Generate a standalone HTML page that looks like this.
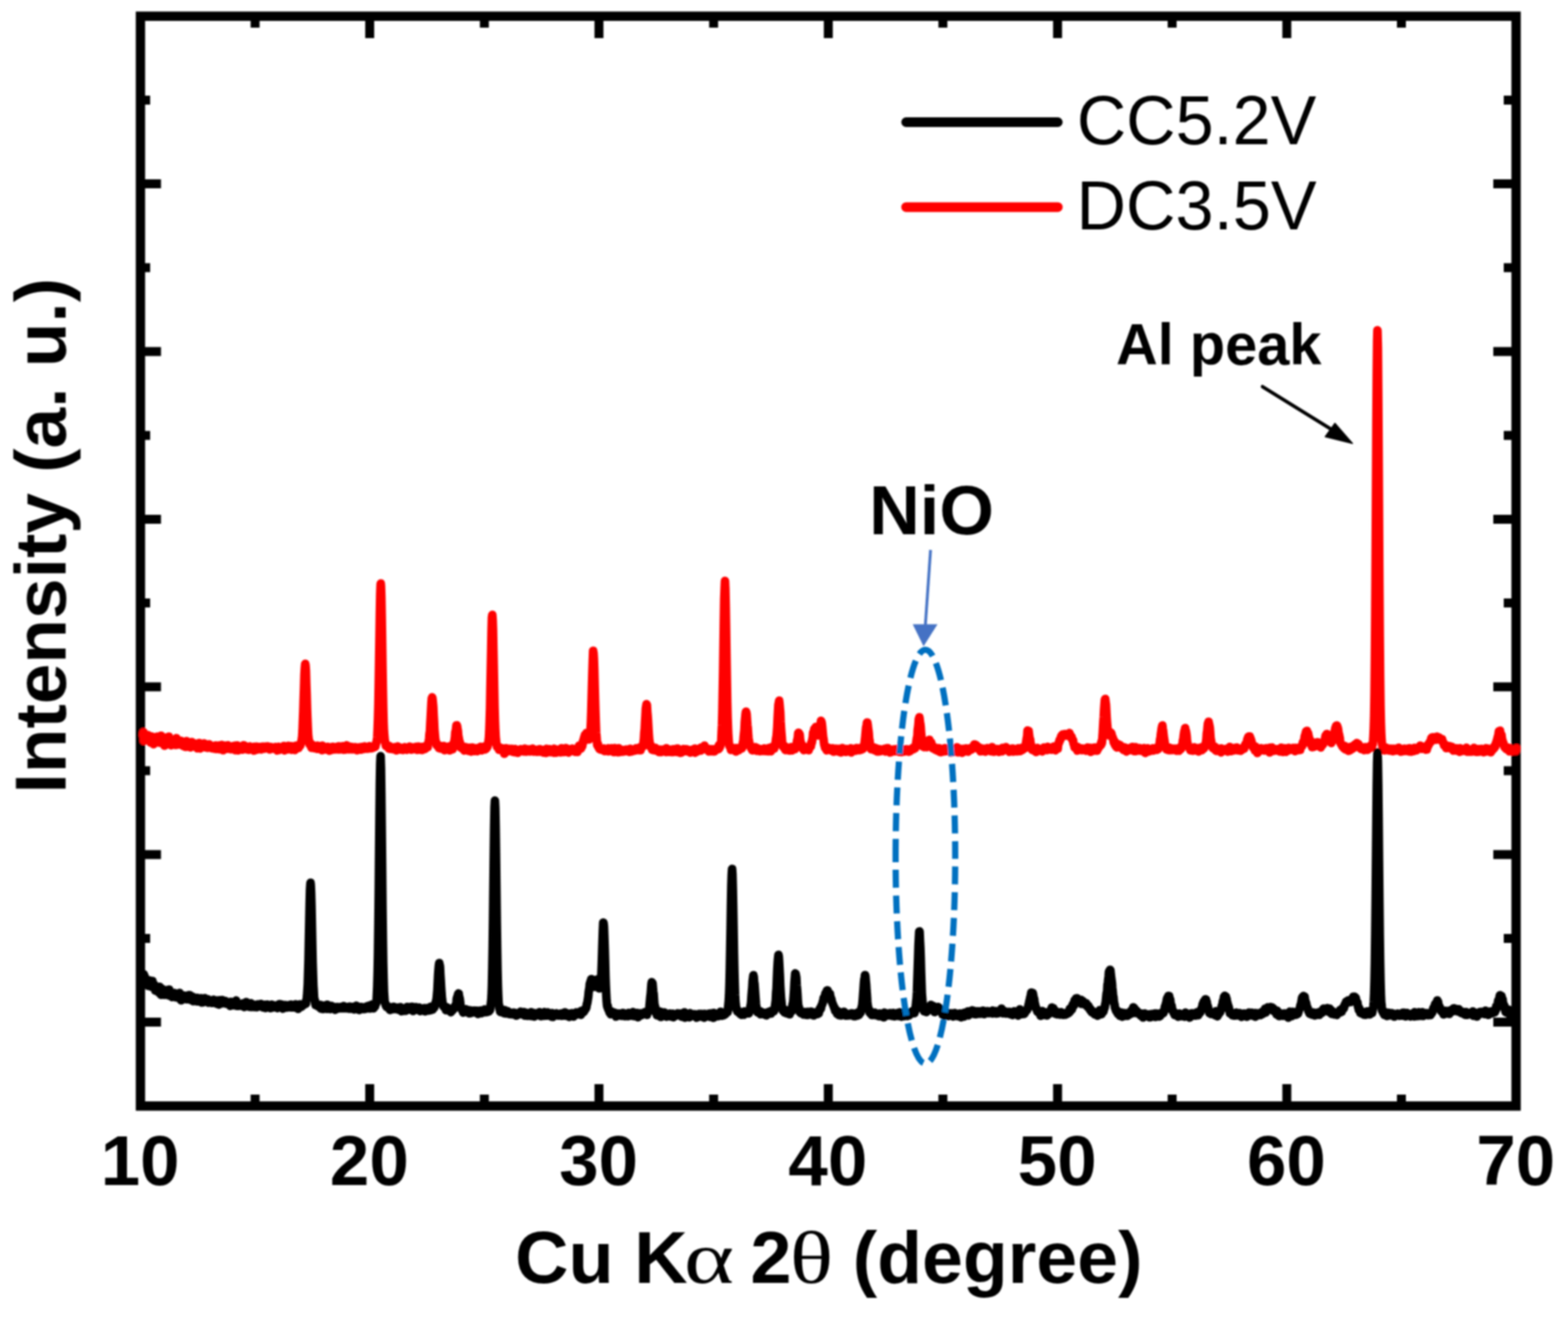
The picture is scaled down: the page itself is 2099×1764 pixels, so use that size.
<!DOCTYPE html>
<html><head><meta charset="utf-8"><title>XRD</title>
<style>html,body{margin:0;padding:0;background:#fff;} svg{display:block;}</style>
</head><body>
<svg width="2099" height="1764" viewBox="0 0 2099 1764">
<defs><filter id="bl" x="0" y="0" width="2099" height="1764" filterUnits="userSpaceOnUse"><feGaussianBlur stdDeviation="1"/></filter></defs>
<rect width="2099" height="1764" fill="#fff"/>
<g filter="url(#bl)">
<rect x="188.0" y="21.7" width="1841.5" height="1458.6" fill="none" stroke="#000" stroke-width="12.5"/>
<path d="M341.5 1480.3V1465.0M341.5 21.7V37.0M494.9 1480.3V1451.0M494.9 21.7V51.0M648.4 1480.3V1465.0M648.4 21.7V37.0M801.8 1480.3V1451.0M801.8 21.7V51.0M955.3 1480.3V1465.0M955.3 21.7V37.0M1108.8 1480.3V1451.0M1108.8 21.7V51.0M1262.2 1480.3V1465.0M1262.2 21.7V37.0M1415.7 1480.3V1451.0M1415.7 21.7V51.0M1569.1 1480.3V1465.0M1569.1 21.7V37.0M1722.6 1480.3V1451.0M1722.6 21.7V51.0M1876.0 1480.3V1465.0M1876.0 21.7V37.0M188.0 133.9H201.0M2029.5 133.9H2013.0M188.0 246.1H215.5M2029.5 246.1H1999.0M188.0 358.3H201.0M2029.5 358.3H2013.0M188.0 470.5H215.5M2029.5 470.5H1999.0M188.0 582.7H201.0M2029.5 582.7H2013.0M188.0 694.9H215.5M2029.5 694.9H1999.0M188.0 807.1H201.0M2029.5 807.1H2013.0M188.0 919.3H215.5M2029.5 919.3H1999.0M188.0 1031.5H201.0M2029.5 1031.5H2013.0M188.0 1143.7H215.5M2029.5 1143.7H1999.0M188.0 1255.9H201.0M2029.5 1255.9H2013.0M188.0 1368.1H215.5M2029.5 1368.1H1999.0" stroke="#000" stroke-width="12" fill="none"/>
<path d="M191.5 984.2L192 979.9 192.5 991.6 193 988.7 193.5 982.6 194 986.6 194.5 990.1 195 988.7 195.5 988.4 196 984.3 196.5 985.2 197 987.7 197.5 990.5 198 984.9 198.5 984 199 991.5 199.5 984.9 200 991.4 200.5 988.9 201 991 201.5 993.8 202 990.6 202.5 990.9 203 985.7 203.5 986.5 204 990.8 204.5 993.6 205 993.2 205.5 996.1 206 990.1 206.5 989.9 207 992.4 207.5 989.5 208 989.4 208.5 986.6 209 992.7 209.5 986.8 210 991.5 210.5 986 211 993.3 211.5 987.3 212 992.8 212.5 986 213 989.3 213.5 994 214 988.5 214.5 991.1 215 989.7 215.5 984.7 216 992 216.5 992.5 217 988.4 217.5 993 218 989.4 218.5 989 219 991.8 219.5 990.1 220 998 220.5 988 221 994.1 221.5 994.8 222 987.2 222.5 987.9 223 993.9 223.5 991.3 224 993.5 224.5 995.5 225 991.8 225.5 990.1 226 986 226.5 993.4 227 990.7 227.5 993.8 228 993.7 228.5 989.8 229 997.5 229.5 996 230 995.5 230.5 990.7 231 992.6 231.5 992.3 232 992.7 232.5 991.1 233 994.9 233.5 994.5 234 994.9 234.5 992.9 235 997.1 235.5 994.7 236 988 236.5 992.9 237 994.3 237.5 996.7 238 993.9 238.5 994.1 239 993.2 239.5 996.3 240 993.9 240.5 993.6 241 993.4 241.5 996.3 242 994 242.5 991.6 243 996.7 243.5 993.9 244 996.2 244.5 996.3 245 998.2 245.5 997.9 246 994.5 246.5 995.5 247 993.2 247.5 999.5 248 997 248.5 999 249 995.5 249.5 992 250 999.5 250.5 996.6 251 996.7 251.5 996.6 252 997.9 252.5 997.7 253 993.4 253.5 998.9 254 995.6 254.5 995.8 255 1000.2 255.5 998.7 256 996.2 256.5 993.2 257 997.3 257.5 998 258 996.9 258.5 994.6 259 995.5 259.5 994.7 260 997.6 260.5 998.8 261 999.2 261.5 995.9 262 997.8 262.5 998.4 263 996.4 263.5 997.2 264 1001.5 264.5 997.9 265 999.2 265.5 996.8 266 997.7 266.5 994.5 267 997.7 267.5 1000 268 1001.7 268.5 1000 269 999.1 269.5 998 270 996.8 270.5 997.7 271 999.1 271.5 996.6 272 999.8 272.5 996.3 273 994.9 273.5 996.4 274 995.2 274.5 995.8 275 1000.3 275.5 998 276 998.8 276.5 1000.5 277 1000.7 277.5 997.6 278 1000.9 278.5 999.3 279 998.6 279.5 999.4 280 996.2 280.5 997.4 281 998.6 281.5 999.9 282 998.2 282.5 998.7 283 1000.6 283.5 1001.4 284 1000.3 284.5 1001.2 285 998.4 285.5 998.6 286 999.7 286.5 998.7 287 998.4 287.5 1002.1 288 999 288.5 997.7 289 1000.2 289.5 1002.5 290 999.6 290.5 1001.5 291 998.8 291.5 998.7 292 998.4 292.5 999.4 293 1002.7 293.5 997.7 294 1002.4 294.5 998 295 999.3 295.5 1001.1 296 1000.8 296.5 1000.3 297 997.1 297.5 1000.4 298 998.2 298.5 1004.1 299 999.6 299.5 1000.3 300 998.1 300.5 999.2 301 998 301.5 1001.6 302 999.7 302.5 1001 303 999 303.5 999.4 304 1002.2 304.5 998.7 305 997.4 305.5 1000.9 306 998.5 306.5 999.6 307 1001.8 307.5 999.1 308 1001.8 308.5 999.3 309 1002.8 309.5 1002.5 310 999.7 310.5 1000.2 311 999.2 311.5 1000.9 312 1002.4 312.5 998.4 313 1002.1 313.5 998.6 314 999.4 314.5 998 315 1004 315.5 1000.9 316 1001.2 316.5 999.8 317 1002.5 317.5 997.7 318 1000.9 318.5 1004.3 319 1000.4 319.5 1001 320 1002 320.5 999.8 321 1001.1 321.5 1002.5 322 1001.4 322.5 1001.7 323 1000.6 323.5 1001.6 324 1001.2 324.5 1003.3 325 1002.2 325.5 1000.8 326 997.5 326.5 1002.2 327 1002.3 327.5 999.8 328 998.2 328.5 999.5 329 1002.5 329.5 999.6 330 1000.5 330.5 1001.5 331 1003 331.5 1001.2 332 1001 332.5 1000.4 333 1003.6 333.5 1002.8 334 1001 334.5 999.1 335 1000 335.5 1002 336 1000.1 336.5 1002.5 337 1001.7 337.5 1001.6 338 1002.2 338.5 1001.9 339 1000 339.5 1000.7 340 1004.6 340.5 999.5 341 1000.5 341.5 1002.8 342 1001 342.5 1000 343 999.3 343.5 1002 344 1002.7 344.5 1003.2 345 1001.3 345.5 1002.7 346 999.7 346.5 1001.5 347 1000.3 347.5 1001.5 348 1002.3 348.5 1002.8 349 999.8 349.5 1003 350 1000.6 350.5 999.8 351 1001 351.5 999.2 352 1001.3 352.5 1001.7 353 1001 353.5 1002 354 1000.8 354.5 1001.3 355 999.2 355.5 1001.3 356 1000.1 356.5 1000.6 357 1001.1 357.5 1001.5 358 998.9 358.5 999.1 359 1000.8 359.5 1001.9 360 1001.8 360.5 1002.5 361 1003.1 361.5 1002 362 1001.2 362.5 999.8 363 999.9 363.5 1000.6 364 1001.6 364.5 1001.6 365 1001.3 365.5 1001 366 1002.1 366.5 1001.5 367 1001.7 367.5 1001.7 368 1000.5 368.5 999.8 369 1001.9 369.5 1001.8 370 1000.9 370.5 1000.7 371 1004.4 371.5 1000.2 372 1000.9 372.5 1001.6 373 999.6 373.5 1001.4 374 1003.7 374.5 1002.5 375 1002.1 375.5 1002 376 1001.4 376.5 1002.5 377 1001 377.5 1000.6 378 1001.3 378.5 1002.4 379 1001.6 379.5 1002.1 380 998.4 380.5 1002.8 381 1004.3 381.5 1003 382 1000.7 382.5 999.9 383 1001.5 383.5 999.7 384 1002.1 384.5 1000.3 385 1002.4 385.5 1002.9 386 998.2 386.5 1001.4 387 1000 387.5 999 388 1000.1 388.5 1000.6 389 1002.3 389.5 998.8 390 1002.2 390.5 1003.5 391 1001.5 391.5 1001.4 392 1000.6 392.5 999 393 1001.3 393.5 1001 394 1001.4 394.5 1003.8 395 1001.2 395.5 1000.7 396 1002.2 396.5 998.1 397 998.3 397.5 999.2 398 998.6 398.5 1000.3 399 998.7 399.5 1001.2 400 1000.6 400.5 999.3 401 997.4 401.5 998.2 402 997.8 402.5 994.4 403 995 403.5 993.3 404 989.3 404.5 985.9 405 977.7 405.5 964.4 406 952.1 406.5 935 407 920.4 407.5 903.4 408 894.8 408.5 889.2 408.6 888.5 409 890.6 409.5 897.6 410 915.7 410.5 929.3 411 947.7 411.5 961 412 973.2 412.5 983.5 413 987.6 413.5 993.1 414 991.8 414.5 996.6 415 996.2 415.5 997 416 997.8 416.5 998.7 417 1000.8 417.5 996.4 418 999.2 418.5 998.4 419 1001.1 419.5 999.1 420 1000.5 420.5 999.5 421 1001 421.5 1001.6 422 999.8 422.5 1000.5 423 998.6 423.5 1001 424 1001.8 424.5 1000 425 1002.3 425.5 998.1 426 998.4 426.5 999.1 427 1000.3 427.5 1001 428 1000.9 428.5 1001 429 1002.1 429.5 1000.5 430 999.5 430.5 999.5 431 1004 431.5 998.1 432 1001 432.5 1003.2 433 1002 433.5 1000.2 434 1001.3 434.5 1002.5 435 1003 435.5 1000.2 436 1002.4 436.5 1001.8 437 1002.9 437.5 1003.3 438 1001 438.5 999.6 439 1002 439.5 1003.8 440 1002.4 440.5 1001.8 441 1004.7 441.5 1000.2 442 1002.7 442.5 1000.8 443 1001.6 443.5 1001.7 444 1003.6 444.5 1000.3 445 1000.9 445.5 999.5 446 1002.2 446.5 1001 447 1002.2 447.5 1000.2 448 1001.2 448.5 1003 449 1001.4 449.5 1002.5 450 1002.3 450.5 1001.2 451 999.6 451.5 1003 452 1001.9 452.5 1003 453 999 453.5 999.5 454 998.9 454.5 1000.5 455 1003.1 455.5 1002.4 456 1001.7 456.5 1001.9 457 1002.7 457.5 1001.3 458 1002.2 458.5 1001.9 459 998.8 459.5 1001.2 460 1003.5 460.5 1001.2 461 1001.5 461.5 1000.9 462 1001.1 462.5 1003.2 463 1001.4 463.5 1000.4 464 997.6 464.5 1001 465 999.2 465.5 999.3 466 1002.8 466.5 1002.7 467 999.2 467.5 1002.9 468 1002.3 468.5 1000.7 469 1002.7 469.5 999.6 470 1000.2 470.5 999.9 471 1000.3 471.5 1002.9 472 1000 472.5 1000.2 473 1000.5 473.5 1002 474 1001.3 474.5 1002.9 475 1000.8 475.5 1000 476 1001.1 476.5 1001.8 477 1000.5 477.5 1002.1 478 1004.1 478.5 1000.9 479 1001.7 479.5 1003.5 480 1000.8 480.5 1000.6 481 1000.2 481.5 1002.2 482 1002.3 482.5 1001.4 483 1001.7 483.5 1003.3 484 1002.7 484.5 999.7 485 1001.5 485.5 1001.7 486 1002.5 486.5 1001.2 487 1000.6 487.5 1000.9 488 999.1 488.5 1001.4 489 1000.6 489.5 1002 490 1000 490.5 1000.7 491 1000 491.5 999.8 492 1002.1 492.5 1000.6 493 1001.7 493.5 999.6 494 1001.1 494.5 998.7 495 1000.3 495.5 1000.1 496 1001.5 496.5 1000.9 497 1000.3 497.5 1001.5 498 1000.5 498.5 1000.8 499 1001 499.5 999.7 500 999.2 500.5 999.8 501 998.5 501.5 999.3 502 999.8 502.5 999 503 996.6 503.5 994.3 504 994 504.5 990.6 505 986.6 505.5 975.5 506 961.8 506.5 943.1 507 915.3 507.5 884.4 508 853.2 508.5 821.3 509 795.7 509.5 782.5 509.7 781 510 784.3 510.5 799 511 825.5 511.5 857 512 891.2 512.5 921.5 513 947.1 513.5 967.2 514 978.7 514.5 984.4 515 990.3 515.5 992.5 516 995.3 516.5 998.1 517 998.6 517.5 997.7 518 999.2 518.5 998.2 519 997.6 519.5 997.9 520 998.8 520.5 1001.9 521 998.5 521.5 1002 522 1002.2 522.5 1000.4 523 1000.7 523.5 1000 524 1000.9 524.5 1001.8 525 1001.1 525.5 1002.4 526 1002.7 526.5 1001.7 527 1001.7 527.5 1001.2 528 1001.8 528.5 999.9 529 1002 529.5 1001.7 530 1000.4 530.5 1004.3 531 1000.3 531.5 1000.4 532 1002 532.5 999.1 533 1000.6 533.5 999.7 534 1000.4 534.5 1001.5 535 1002.1 535.5 1003.2 536 1002.8 536.5 1003.3 537 1002.5 537.5 1001.2 538 1003.2 538.5 1001.1 539 1001 539.5 1003.8 540 1002.8 540.5 1002.1 541 1002.8 541.5 1003 542 1000.1 542.5 1001.7 543 1000.3 543.5 1002 544 1001 544.5 1003.6 545 1002.5 545.5 1000.8 546 1001.8 546.5 1000.3 547 1001.9 547.5 1002.6 548 1002.2 548.5 999.3 549 1001.4 549.5 1002.5 550 1002.2 550.5 1003.3 551 1000.1 551.5 1002.5 552 1001 552.5 1002 553 1002.3 553.5 1002.7 554 1001 554.5 1002 555 1000.2 555.5 999.9 556 1002.4 556.5 1001.6 557 999.6 557.5 1000.5 558 1001.6 558.5 1003.6 559 1002.9 559.5 1002.6 560 999.2 560.5 1001.4 561 1002.1 561.5 1001.9 562 1001.9 562.5 1001 563 1003.6 563.5 1003.2 564 1001 564.5 999.8 565 1003.7 565.5 1000.2 566 1002.4 566.5 1003.2 567 999.4 567.5 1000.9 568 999.9 568.5 1000.8 569 1000.4 569.5 1002.2 570 1000.2 570.5 999.1 571 1000.2 571.5 998 572 997.3 572.5 999.9 573 994.9 573.5 993.8 574 992.3 574.5 987.6 575 981.6 575.5 979.4 576 969.1 576.5 960.2 577 950.8 577.5 941.3 578 934.8 578.5 933.5 578.6 933.3 579 935.5 579.5 940.6 580 945.7 580.5 957 581 965 581.5 976.1 582 981.8 582.5 987.4 583 991.1 583.5 993 584 993.6 584.5 997.5 585 995.8 585.5 996.7 586 998.4 586.5 998.2 587 999.9 587.5 1001.1 588 1000.4 588.5 1000.5 589 1000.5 589.5 1001.8 590 998.4 590.5 1001.4 591 999.8 591.5 999.5 592 1001.2 592.5 1000.8 593 1002.2 593.5 1002.9 594 998.5 594.5 1001.5 595 1004.1 595.5 1002.8 596 1003.5 596.5 1001.8 597 999.8 597.5 1000.2 598 1002.6 598.5 1002.9 599 1000.7 599.5 1001.3 600 1002 600.5 999.3 601 1001.1 601.5 1003.6 602 1004.3 602.5 1001.2 603 1003.6 603.5 1000.4 604 999.9 604.5 997.8 605 1001.7 605.5 999.6 606 1002.7 606.5 999.3 607 998 607.5 993.8 608 995.8 608.5 990.3 609 986.8 609.5 979.8 610 979.4 610.5 975.6 611 970.9 611.5 970.8 612 972.2 612.5 975.7 613 978.4 613.5 985 614 986.8 614.5 990.2 615 993.5 615.5 993.1 616 997 616.5 1000.5 617 1000.3 617.5 999.4 618 1001.3 618.5 998.5 619 1001 619.5 1002.2 620 1002.6 620.5 1000.9 621 1003.2 621.5 1004.5 622 1001.6 622.5 1003.2 623 1000.3 623.5 999.9 624 1003.3 624.5 1002.6 625 1002.8 625.5 1001.9 626 1002.3 626.5 1003.8 627 1005 627.5 1002.5 628 1000.7 628.5 1004.5 629 1003.6 629.5 1003.8 630 1003.1 630.5 1005.9 631 1003 631.5 1003.6 632 1000.5 632.5 1002.2 633 1002.1 633.5 1002.9 634 1003.4 634.5 1002 635 1005.2 635.5 1001.6 636 1002.4 636.5 1003.3 637 1001.4 637.5 1003.7 638 1003.8 638.5 1002.6 639 1005.4 639.5 1003 640 1003.3 640.5 1001.6 641 1000.7 641.5 1002 642 1002.4 642.5 1002.2 643 1003.7 643.5 999.6 644 1001.1 644.5 1000.2 645 1004.2 645.5 1001.7 646 1001.7 646.5 1000.8 647 1003.3 647.5 1001.5 648 1002.2 648.5 999.1 649 1003.1 649.5 1001.8 650 1001.8 650.5 1002.4 651 1000.2 651.5 999.9 652 1000.5 652.5 999.3 653 997.2 653.5 995.5 654 991.4 654.5 987.3 655 978.6 655.5 964.1 656 948.3 656.5 920.7 657 895.9 657.5 871.3 658 844.7 658.5 826.7 659 823 659.5 829.5 660 843.7 660.5 870.1 661 894.9 661.5 921.1 662 945.8 662.5 963.7 663 976.1 663.5 986.1 664 990.9 664.5 995.8 665 997.7 665.5 1000 666 999.2 666.5 998.7 667 999.1 667.5 1000.9 668 1003.5 668.5 1002.8 669 1001.1 669.5 1003.4 670 1000.8 670.5 1003.8 671 1002.1 671.5 1003.8 672 1003.7 672.5 1002.6 673 1003.5 673.5 1001.8 674 1003.2 674.5 1004.8 675 1008.8 675.5 1004.4 676 1003.7 676.5 1002.3 677 1005 677.5 1001.5 678 1002.7 678.5 1004.2 679 1002.3 679.5 1005.9 680 1005.3 680.5 1003.2 681 1003.2 681.5 1002.3 682 1002.2 682.5 1004.6 683 1004.9 683.5 1004.6 684 1004.5 684.5 1003.4 685 1004.7 685.5 1002.3 686 1004.2 686.5 1006.2 687 1006 687.5 1003.7 688 1003.9 688.5 1006.1 689 1006.7 689.5 1002.4 690 1003.8 690.5 1004.7 691 1006 691.5 1003.3 692 1005.3 692.5 1004.1 693 1007.6 693.5 1005.1 694 1004.3 694.5 1004.1 695 1005.9 695.5 1005.4 696 1003.2 696.5 1004.9 697 1002.8 697.5 1003.6 698 1002.9 698.5 1002.9 699 1003.8 699.5 1003.4 700 1005.4 700.5 1005.7 701 1004.4 701.5 1003.2 702 1005.7 702.5 1002 703 1002.2 703.5 1005.6 704 1005.6 704.5 1006 705 1004.4 705.5 1003.1 706 1004 706.5 1005.4 707 1003.7 707.5 1003.8 708 1002.9 708.5 1003.2 709 1005.8 709.5 1005.3 710 1003.2 710.5 1003.3 711 1004 711.5 1005.4 712 1003.2 712.5 1004.5 713 1001.9 713.5 1003.1 714 1005.3 714.5 1005.9 715 1003.2 715.5 1003.7 716 1005.8 716.5 1004.2 717 1004 717.5 1005.4 718 1005 718.5 1006.2 719 1005.8 719.5 1004 720 1004.6 720.5 1004.7 721 1003 721.5 1003.5 722 1006 722.5 1002.7 723 1006 723.5 1005.1 724 1004.5 724.5 1005.4 725 1005.4 725.5 1006.3 726 1004.2 726.5 1004.4 727 1004.4 727.5 1007.2 728 1006 728.5 1003.5 729 1004.3 729.5 1003.8 730 1004.7 730.5 1005 731 1007.7 731.5 1002.3 732 1006.1 732.5 1005.3 733 1003.8 733.5 1004.5 734 1004.1 734.5 1004.8 735 1006 735.5 1002.7 736 1006.4 736.5 1004.2 737 1006.7 737.5 1005.2 738 1006.3 738.5 1005.4 739 1006.1 739.5 1004.8 740 1003.6 740.5 1005.6 741 1005.6 741.5 1007.4 742 1002.1 742.5 1004.4 743 1006.1 743.5 1003 744 1004.4 744.5 1007.4 745 1006.5 745.5 1003.5 746 1006.5 746.5 1006.2 747 1005.7 747.5 1005.1 748 1004.9 748.5 1003.5 749 1003.9 749.5 1005.6 750 1004.8 750.5 1007 751 1004.2 751.5 1001.5 752 1004.1 752.5 1004.9 753 1005.1 753.5 1004.6 754 1003.5 754.5 1006.5 755 1003.7 755.5 1005.5 756 1004.1 756.5 1002.9 757 1006.3 757.5 1001.2 758 1003.4 758.5 1005 759 1004 759.5 1005.4 760 1004.3 760.5 1003.8 761 1007.2 761.5 1004.1 762 1004.1 762.5 1002.9 763 1003.3 763.5 1005.1 764 1005 764.5 1004.2 765 1003.3 765.5 1005.1 766 1001.9 766.5 1003.7 767 1003.7 767.5 1002.9 768 1004.2 768.5 1003.1 769 1002.9 769.5 1006.2 770 1004.8 770.5 1005.3 771 1003.7 771.5 1004.9 772 1004.5 772.5 1005 773 1006.4 773.5 1002.9 774 1003.4 774.5 1002.8 775 998.1 775.5 1000.6 776 1002.1 776.5 1002.5 777 1000.4 777.5 1002 778 1001.4 778.5 998.2 779 999.4 779.5 998.5 780 995.2 780.5 991.7 781 993 781.5 989.1 782 987 782.5 985.9 783 983.6 783.5 984.5 784 983.3 784.4 982 784.5 982.7 785 981 785.5 982.4 786 984.6 786.5 984 787 989.5 787.5 986.5 788 987 788.5 989.7 789 988.8 789.5 986 790 982 790.5 976.3 791 966.8 791.5 953 792 934.8 792.5 917 793 899.4 793.5 884.6 794 871 794.3 873.6 794.5 873.3 795 881.4 795.5 896 796 915.1 796.5 934 797 951 797.5 966.3 798 980.2 798.5 985.3 799 992 799.5 997.2 800 997.8 800.5 996.1 801 1000.1 801.5 999.8 802 1000.7 802.5 1002.6 803 1002.2 803.5 1001.5 804 1003.2 804.5 1002.9 805 1002.6 805.5 1003.1 806 1003.2 806.5 1002.5 807 1002.5 807.5 1003.3 808 1002.1 808.5 1001.8 809 1005.2 809.5 1003.3 810 1003.6 810.5 1003.5 811 1003.8 811.5 1003.9 812 1004 812.5 1002.9 813 1005.2 813.5 1003.1 814 1005.4 814.5 1001.6 815 1002.7 815.5 1005.4 816 1004 816.5 1003.3 817 1004.7 817.5 1002.9 818 1004.4 818.5 1001.4 819 1003.7 819.5 1003.5 820 1005 820.5 1005.5 821 1003.2 821.5 1006.5 822 1003.6 822.5 1001.7 823 1001.3 823.5 1006.4 824 1004.3 824.5 1003.6 825 1003.5 825.5 1003 826 1006.2 826.5 1004.4 827 1006.8 827.5 1004.2 828 1001.4 828.5 1005.6 829 1004 829.5 1004.2 830 1006.5 830.5 1004.1 831 1006 831.5 1004.5 832 1003.5 832.5 1005.1 833 1003.7 833.5 1006.1 834 1005.7 834.5 1004.6 835 1005.3 835.5 1005.2 836 1004.1 836.5 1005.6 837 1004.2 837.5 1005.3 838 1003.2 838.5 1004.6 839 1005 839.5 1003.4 840 1003.9 840.5 1003.7 841 1005.3 841.5 1003.5 842 1004.9 842.5 1006.3 843 1004.8 843.5 1002.2 844 1004.5 844.5 1005.6 845 1003.9 845.5 1005.7 846 1005 846.5 1004.7 847 1003.8 847.5 1003.5 848 1003.8 848.5 1004.1 849 1004.7 849.5 1004.5 850 1003.5 850.5 1003.9 851 1004.3 851.5 1001.6 852 1002.7 852.5 1002.5 853 1003.2 853.5 1003 854 1002.9 854.5 1002 855 1003.9 855.5 1003.2 856 1000.5 856.5 1002.4 857 1000.7 857.5 1004.1 858 1000.9 858.5 1000.6 859 1000.6 859.5 999.6 860 998.7 860.5 999.4 861 995.5 861.5 993.1 862 989 862.5 980.3 863 976.3 863.5 966.6 864 958.4 864.5 948.5 865 945.4 865.5 942.5 866 943.7 866.5 952.5 867 957.8 867.5 965.4 868 974.4 868.5 982.7 869 989 869.5 992.8 870 996.8 870.5 999.3 871 997.2 871.5 999.2 872 999.3 872.5 1001.2 873 1003.4 873.5 1002.7 874 1000.8 874.5 1002 875 1004 875.5 1002.1 876 1002.9 876.5 1003.6 877 1000.9 877.5 1004.4 878 1004 878.5 1004.4 879 1002.4 879.5 1002.8 880 1003.1 880.5 1004.2 881 1004.1 881.5 1004.2 882 1006.4 882.5 1005.8 883 1003.2 883.5 1003.3 884 1006.5 884.5 1003.9 885 1006.1 885.5 1006.4 886 1003.6 886.5 1004 887 1004.5 887.5 1003.3 888 1003.2 888.5 1003.9 889 1005.6 889.5 1003.9 890 1004.2 890.5 1003.9 891 1002.8 891.5 1006.5 892 1001.5 892.5 1003.7 893 1005.3 893.5 1002.8 894 1005.4 894.5 1006.2 895 1003.5 895.5 1004.9 896 1003.2 896.5 1005.3 897 1004.8 897.5 1004.9 898 1006.4 898.5 1005.3 899 1006.4 899.5 1005.5 900 1003.1 900.5 1005 901 1005.3 901.5 1002.8 902 1006.4 902.5 1004.8 903 1005.2 903.5 1003.5 904 1004.8 904.5 1005.1 905 1004.3 905.5 1004.8 906 1001.9 906.5 1006.5 907 1003.3 907.5 1001.9 908 1003.5 908.5 1003.6 909 1005.4 909.5 1003.5 910 1005.1 910.5 1003.5 911 1007.6 911.5 1005.4 912 1007.3 912.5 1003.4 913 1005.6 913.5 1003.5 914 1005.5 914.5 1005.6 915 1002.6 915.5 1003.2 916 1003.2 916.5 1002.7 917 1003.7 917.5 1003.4 918 1002.8 918.5 1004.8 919 1005.4 919.5 1003 920 1004 920.5 1004.7 921 1004.4 921.5 1003.8 922 1005.7 922.5 1005.8 923 1005.5 923.5 1004.4 924 1007.2 924.5 1006.9 925 1004.1 925.5 1004.5 926 1006.1 926.5 1003.6 927 1005.1 927.5 1004.6 928 1003.6 928.5 1004.2 929 1002.5 929.5 1003.8 930 1001.9 930.5 1007.4 931 1006.4 931.5 1006 932 1004.8 932.5 1005.7 933 1006 933.5 1005.6 934 1005.4 934.5 1002.9 935 1004.5 935.5 1003.1 936 1002.1 936.5 1001.9 937 1003.7 937.5 1004.3 938 1000.8 938.5 1004.5 939 1003.8 939.5 1001 940 1000.6 940.5 1000.8 941 1002 941.5 1000.1 942 1000.5 942.5 1001 943 998 943.5 1001 944 1002.6 944.5 1001.8 945 1002.7 945.5 1002.7 946 1003.3 946.5 1002.9 947 1001.8 947.5 1002.9 948 1003.2 948.5 1005.1 949 1005.7 949.5 1004.2 950 1002.8 950.5 1002.8 951 1003.6 951.5 1005.6 952 1004.2 952.5 1003.7 953 1002.8 953.5 1004.9 954 1004.1 954.5 1003.6 955 1003.7 955.5 1005.7 956 1003.3 956.5 1005.6 957 1004.9 957.5 1003.3 958 1004.3 958.5 1002.8 959 1001.8 959.5 1002.4 960 1001.3 960.5 1003 961 1002.1 961.5 1002.6 962 1002.6 962.5 997.1 963 1001.1 963.5 997.7 964 999.3 964.5 996.4 965 995 965.5 992 966 980.3 966.5 970.7 967 952.6 967.5 926 968 899.3 968.5 864.7 969 830.3 969.5 801.5 970 788.4 970.4 779.5 970.5 777.5 971 788.8 971.5 812.4 972 843.5 972.5 878.2 973 909.6 973.5 939.6 974 959.8 974.5 974 975 984.9 975.5 991.7 976 997 976.5 998.7 977 998.9 977.5 1000.2 978 1000.9 978.5 1003.7 979 1000.6 979.5 1002.2 980 1002.8 980.5 1000.8 981 1002.4 981.5 1002.5 982 1001.8 982.5 1003.2 983 1003.9 983.5 1004.1 984 1002.4 984.5 1003 985 1005.8 985.5 1001.3 986 1003 986.5 1003.8 987 1002.8 987.5 1003.4 988 1002.7 988.5 1003.4 989 1004 989.5 1001.9 990 1002.2 990.5 1001.7 991 1001 991.5 1001.2 992 999.4 992.5 1001.3 993 1001.8 993.5 1000.8 994 998.7 994.5 993.6 995 993.5 995.5 986.2 996 981.3 996.5 977 997 966 997.5 961.8 998 955.8 998.5 952.6 998.7 952.5 999 953.6 999.5 955.8 1000 963.4 1000.5 970.5 1001 974.3 1001.5 982 1002 987.8 1002.5 990.9 1003 994 1003.5 997.7 1004 998.7 1004.5 997.8 1005 1000 1005.5 1001.8 1006 1000 1006.5 1000.7 1007 1004.2 1007.5 1004.1 1008 1000.4 1008.5 1001 1009 1003.4 1009.5 1001.5 1010 1002.8 1010.5 1002.6 1011 1004 1011.5 1000.1 1012 1000.6 1012.5 1001.9 1013 1004.9 1013.5 1003.4 1014 1001.4 1014.5 1004.3 1015 1004.6 1015.5 1003.4 1016 1003.3 1016.5 1004.4 1017 1005.4 1017.5 1004 1018 1004.5 1018.5 1003.8 1019 1003.4 1019.5 1002.7 1020 1004.2 1020.5 1003.5 1021 1003.5 1021.5 1005.1 1022 1004.5 1022.5 1005 1023 1001.8 1023.5 1004.5 1024 1003 1024.5 1002.7 1025 1002.6 1025.5 1005.3 1026 1004.7 1026.5 1002.7 1027 1002.1 1027.5 1003.5 1028 1002.9 1028.5 1005.5 1029 1001.4 1029.5 1000.9 1030 1002.8 1030.5 1003.1 1031 1003.1 1031.5 1003.8 1032 1005.4 1032.5 1002.1 1033 1001.6 1033.5 999.8 1034 1002.2 1034.5 1002.7 1035 1000.9 1035.5 1002.4 1036 1000.4 1036.5 1001.8 1037 999.4 1037.5 996.5 1038 995.3 1038.5 991.7 1039 987.8 1039.5 985.4 1040 979.5 1040.5 972.8 1041 961.1 1041.5 951.9 1042 943.2 1042.5 941.1 1042.9 938.5 1043 937.8 1043.5 942.2 1044 948.1 1044.5 953.3 1045 965.8 1045.5 973.8 1046 980.6 1046.5 986.6 1047 993.9 1047.5 996.7 1048 999.2 1048.5 996.8 1049 998.4 1049.5 1001.1 1050 998.9 1050.5 999.9 1051 998.9 1051.5 1003.9 1052 1003.1 1052.5 1002.6 1053 1002.4 1053.5 1001.8 1054 1001.9 1054.5 1003.3 1055 1001.7 1055.5 1004.3 1056 1002.1 1056.5 1001.7 1057 1004.6 1057.5 1002.7 1058 1003.6 1058.5 1002.4 1059 1000 1059.5 1003.6 1060 1001.1 1060.5 1004.2 1061 1000.7 1061.5 1000.2 1062 1003 1062.5 1003 1063 1002.4 1063.5 1000.4 1064 1002.7 1064.5 999.1 1065 999.5 1065.5 997.8 1066 996.5 1066.5 995.8 1067 991.1 1067.5 989.7 1068 986.9 1068.5 981.4 1069 980.7 1069.3 982 1069.5 981.3 1070 983.6 1070.5 982.9 1071 989.2 1071.5 992.2 1072 993.9 1072.5 994.7 1073 998.3 1073.5 999 1074 1001.4 1074.5 1001.1 1075 1002.6 1075.5 1001.3 1076 1003.9 1076.5 999.2 1077 1000.9 1077.5 1003 1078 1000.4 1078.5 1003.3 1079 1000.8 1079.5 1002.4 1080 1001 1080.5 1001.6 1081 1002.2 1081.5 1001.7 1082 1001.1 1082.5 1004.1 1083 1000.9 1083.5 999.2 1084 1001 1084.5 1000 1085 999.5 1085.5 999 1086 993.9 1086.5 994.7 1087 992.8 1087.5 989.1 1088 987.1 1088.5 980.4 1089 981.2 1089.5 982 1090 975.5 1090.5 975.6 1091 975.7 1091.4 975 1091.5 977.1 1092 972.9 1092.5 976 1093 978.3 1093.5 977 1094 980.2 1094.5 984 1095 984.2 1095.5 983.3 1096 978.4 1096.5 979.7 1097 977.4 1097.5 972.8 1098 969.5 1098.5 970.6 1099 964.7 1099.3 965 1099.5 965.7 1100 967.4 1100.5 971.4 1101 976.7 1101.5 983 1102 987.2 1102.5 989.5 1103 994.1 1103.5 997.3 1104 997.8 1104.5 1001 1105 1001.3 1105.5 999.6 1106 1001.7 1106.5 1004.2 1107 1004 1107.5 1002.1 1108 1003.5 1108.5 1001.7 1109 1000.8 1109.5 1003.6 1110 1003.3 1110.5 1003.8 1111 1003.2 1111.5 1003.7 1112 1002.7 1112.5 1004 1113 1004.6 1113.5 1003.5 1114 1004.7 1114.5 1001.4 1115 1002.7 1115.5 1005.6 1116 1006.1 1116.5 1004.2 1117 1003.7 1117.5 1002.3 1118 1004.4 1118.5 1005 1119 1002.1 1119.5 1004.7 1120 1004.7 1120.5 1004.6 1121 1002.6 1121.5 1004.8 1122 1002.2 1122.5 1006 1123 1004.3 1123.5 1002.6 1124 1005.9 1124.5 1005.7 1125 1003.3 1125.5 1007 1126 1002.9 1126.5 1004.6 1127 1005.7 1127.5 1001.3 1128 1005.5 1128.5 1004.1 1129 1004.2 1129.5 1002.8 1130 1004.7 1130.5 1002.8 1131 1003 1131.5 1003.7 1132 1002.7 1132.5 1006.3 1133 1002.5 1133.5 1003.3 1134 1003.8 1134.5 1004.2 1135 1005.3 1135.5 1005.3 1136 1003.8 1136.5 1003.7 1137 1004.3 1137.5 1005.3 1138 1005.1 1138.5 1003.5 1139 1001.5 1139.5 1007 1140 1005.4 1140.5 1004.5 1141 1004.6 1141.5 1003.5 1142 1002.8 1142.5 1003.7 1143 1003.8 1143.5 1003.2 1144 1002.1 1144.5 1003.6 1145 1004.7 1145.5 1003.3 1146 1003.9 1146.5 1001.2 1147 1003.6 1147.5 1003.6 1148 1002.1 1148.5 1001.4 1149 1004.1 1149.5 1002.5 1150 1004.1 1150.5 1002.8 1151 1004 1151.5 1002.7 1152 1001 1152.5 1002.7 1153 1002.2 1153.5 1003.2 1154 1001.5 1154.5 1001.2 1155 1002.3 1155.5 1001.9 1156 1000.3 1156.5 999 1157 995.9 1157.5 993 1158 989 1158.5 983.5 1159 977.9 1159.5 973.1 1160 972.3 1160.5 967.2 1160.7 967 1161 966.9 1161.5 969.7 1162 974.2 1162.5 977.4 1163 981.5 1163.5 989.2 1164 990.7 1164.5 996.1 1165 998.2 1165.5 1001 1166 1002.8 1166.5 1001.8 1167 1001.1 1167.5 1000.6 1168 1001.4 1168.5 1002.7 1169 1000.1 1169.5 1003.1 1170 1003.1 1170.5 1004.1 1171 1002.9 1171.5 1003.6 1172 1002.6 1172.5 1003 1173 1001.4 1173.5 1003.9 1174 1005.8 1174.5 1004.1 1175 1004.4 1175.5 1002.6 1176 1005.8 1176.5 1003 1177 1005.1 1177.5 1004.2 1178 1002.8 1178.5 1005.4 1179 1004.1 1179.5 1004.4 1180 1004.7 1180.5 1004.1 1181 1003.7 1181.5 1004.8 1182 1003.7 1182.5 1004.3 1183 1003.4 1183.5 1002.3 1184 1003.4 1184.5 1003.6 1185 1004.3 1185.5 1005.8 1186 1002.1 1186.5 1004.4 1187 1001.4 1187.5 1002.9 1188 1003.6 1188.5 1001.4 1189 1001.9 1189.5 1004.5 1190 1004.4 1190.5 1004.2 1191 1003.3 1191.5 1007.1 1192 1004.1 1192.5 1003.2 1193 1006.5 1193.5 1005.1 1194 1003.8 1194.5 1005.9 1195 1004.5 1195.5 1005.1 1196 1004.6 1196.5 1003 1197 1005.6 1197.5 1004.5 1198 1003 1198.5 1003.3 1199 1005.5 1199.5 1003.8 1200 1004.3 1200.5 1005.1 1201 1004.4 1201.5 1002.3 1202 1005.1 1202.5 1005.5 1203 1005.4 1203.5 1006.3 1204 1004.7 1204.5 1005.2 1205 1006.3 1205.5 1003.8 1206 1006.4 1206.5 1006.4 1207 1005.2 1207.5 1006.5 1208 1005.2 1208.5 1003 1209 1005.6 1209.5 1004.5 1210 1004.6 1210.5 1004.3 1211 1005.8 1211.5 1004.7 1212 1003.1 1212.5 1004.6 1213 1004.9 1213.5 1003 1214 1003.3 1214.5 1003.3 1215 1003 1215.5 1004.2 1216 1005 1216.5 1006.1 1217 1005.2 1217.5 1004.9 1218 1005 1218.5 1005.1 1219 1002.8 1219.5 1004.1 1220 1003.5 1220.5 1002.8 1221 1002.3 1221.5 1002 1222 1002.2 1222.5 1000.7 1223 1002.7 1223.5 1001.8 1224 1001.6 1224.5 1001.4 1225 1001.3 1225.5 998.7 1226 998 1226.5 994.1 1227 990.5 1227.5 987 1228 986.7 1228.5 976.6 1229 973.4 1229.5 969 1230 962 1230.5 962.3 1230.7 960 1231 961.7 1231.5 966.3 1232 968.8 1232.5 972.9 1233 980.6 1233.5 984.8 1234 988.3 1234.5 991.9 1235 999 1235.5 997 1236 998.7 1236.5 998.5 1237 999.9 1237.5 999.5 1238 999.2 1238.5 997.9 1239 997.3 1239.5 997.6 1240 998.4 1240.5 1000 1241 997.9 1241.5 998.1 1242 995.6 1242.5 994.1 1243 991.9 1243.5 993.2 1244 990.2 1244.3 993 1244.5 995.2 1245 993.8 1245.5 995.3 1246 994 1246.5 993.5 1247 995.6 1247.5 996.6 1248 999.7 1248.5 1001.6 1249 998.8 1249.5 1000.1 1250 1001 1250.5 1001.3 1251 1000.5 1251.5 1002.6 1252 1003.3 1252.5 1003.5 1253 1001.6 1253.5 1003.2 1254 1001.2 1254.5 1004.7 1255 1002.3 1255.5 1003.3 1256 1003.2 1256.5 1003 1257 1002.5 1257.5 1001.6 1258 1006.2 1258.5 1004.3 1259 1004.3 1259.5 1006.7 1260 1003.9 1260.5 1004.8 1261 1004.1 1261.5 1005.6 1262 1004.7 1262.5 1004.5 1263 1003.8 1263.5 1004.5 1264 1005.7 1264.5 1001.5 1265 1004 1265.5 1003.6 1266 1003.8 1266.5 1001.6 1267 1005.2 1267.5 1003.1 1268 1003.9 1268.5 1003.6 1269 1002.1 1269.5 1003.7 1270 1001.9 1270.5 1003 1271 1003.8 1271.5 1004.3 1272 1004.3 1272.5 1004.1 1273 1007.1 1273.5 1004.8 1274 1002.7 1274.5 1003.5 1275 1003.4 1275.5 1004.1 1276 1003.5 1276.5 1003.2 1277 1006.4 1277.5 1004.3 1278 1003.9 1278.5 1004 1279 1004 1279.5 1006.1 1280 1004.9 1280.5 1005.8 1281 1000.2 1281.5 1004.7 1282 1005.7 1282.5 1006.9 1283 1004.3 1283.5 1002.1 1284 1005 1284.5 1003.5 1285 1001.9 1285.5 1003.5 1286 1005.6 1286.5 1005.8 1287 1005.2 1287.5 1002.9 1288 1007.5 1288.5 1002.7 1289 1004.1 1289.5 1002.3 1290 1005.9 1290.5 1004.8 1291 1005.3 1291.5 1004.3 1292 1004.1 1292.5 1004.4 1293 1001.7 1293.5 1005.4 1294 1005.3 1294.5 1003.6 1295 1004 1295.5 1004.4 1296 1006 1296.5 1004.5 1297 1003.9 1297.5 1003.1 1298 1001.6 1298.5 1002.6 1299 1003.3 1299.5 1002.6 1300 1002.8 1300.5 1003.3 1301 1002.4 1301.5 1001.8 1302 1001.7 1302.5 1000.6 1303 999.8 1303.5 999.9 1304 996.6 1304.5 1000.1 1305 996.5 1305.5 999.2 1305.7 998 1306 999.5 1306.5 998.3 1307 997.3 1307.5 1000.3 1308 999.6 1308.5 1000.1 1309 1000.6 1309.5 1002.3 1310 1002.6 1310.5 1002.3 1311 1000.4 1311.5 1002.2 1312 1003.2 1312.5 1005.6 1313 1004 1313.5 1003.5 1314 1005.3 1314.5 1003.7 1315 1003.9 1315.5 1004.2 1316 1002.1 1316.5 1005.3 1317 1004.6 1317.5 1003.7 1318 1002.6 1318.5 1004.4 1319 1006 1319.5 1003.3 1320 1002.8 1320.5 1004.7 1321 1002.1 1321.5 1001.3 1322 1003.6 1322.5 1003.3 1323 1003.9 1323.5 1003.5 1324 1004.7 1324.5 1003.9 1325 1003.5 1325.5 1003.6 1326 1005.1 1326.5 1005.5 1327 1005.4 1327.5 1005.2 1328 1000 1328.5 1002.9 1329 1003.8 1329.5 1004.5 1330 1002.1 1330.5 1006.1 1331 1004.6 1331.5 1003.4 1332 1004.4 1332.5 1003.8 1333 1003.2 1333.5 1004.9 1334 1003.6 1334.5 1002.4 1335 1003.3 1335.5 1004 1336 1002.7 1336.5 1005.7 1337 1002.7 1337.5 1006.3 1338 1005.1 1338.5 1002.7 1339 1004 1339.5 1005.2 1340 1003.3 1340.5 1001.9 1341 1003.4 1341.5 1005.6 1342 1000.9 1342.5 1003.3 1343 1002.4 1343.5 1002 1344 1001.4 1344.5 1001.4 1345 1003 1345.5 1002.4 1345.7 1001.5 1346 1003.6 1346.5 1000 1347 1002.6 1347.5 1002.2 1348 1003.7 1348.5 1002.8 1349 1004 1349.5 1002.8 1350 1004.3 1350.5 1003.7 1351 1006.2 1351.5 1002.6 1352 1005.2 1352.5 1004.4 1353 1004.1 1353.5 1003.1 1354 1004.5 1354.5 1002 1355 1002.2 1355.5 1004.9 1356 1002 1356.5 1005.9 1357 1003.7 1357.5 1004.3 1358 1004.1 1358.5 1004.5 1359 1003.6 1359.5 1003.5 1360 1003.8 1360.5 1005.3 1361 1005.4 1361.5 1005.6 1362 1004.4 1362.5 1003.6 1363 1001.6 1363.5 1004.6 1364 1004.8 1364.5 1003.2 1365 1004.7 1365.5 1005.3 1366 1003.7 1366.5 1004.8 1367 1003.8 1367.5 1001 1368 1002.6 1368.5 1002.5 1369 1003.6 1369.5 1001.6 1370 1001.9 1370.5 1000.9 1371 1001.7 1371.5 1001.2 1372 1001.4 1372.5 999.7 1373 997 1373.5 994.5 1374 991.2 1374.5 987.7 1375 986 1375.5 977.8 1376 979 1376.4 978.6 1376.5 980.2 1377 978.4 1377.5 982.6 1378 986.5 1378.5 988.3 1379 989.8 1379.5 994.8 1380 996 1380.5 1000.1 1381 999.4 1381.5 1003.6 1382 1002 1382.5 1001.2 1383 1001.8 1383.5 1001.3 1384 1003.4 1384.5 1004.9 1385 1002.8 1385.5 1004.4 1386 1002 1386.5 1003.7 1387 1006.4 1387.5 1001.6 1388 1005.1 1388.5 1005.1 1389 1001.1 1389.5 1001.7 1390 1002.3 1390.5 1004.9 1391 1003.1 1391.5 1003.4 1392 1004.6 1392.5 1003.8 1393 1003.9 1393.5 1003.2 1394 1005.1 1394.5 1002.6 1395 1005.7 1395.5 1003 1396 1002.4 1396.5 1004.1 1397 1003.8 1397.5 1000.5 1398 1003.1 1398.5 1000.9 1399 1001.4 1399.5 1003.3 1400 1000.9 1400.5 1002.2 1401 1001.1 1401.5 1003.9 1402 1001.1 1402.5 999.6 1402.9 1001 1403 999.9 1403.5 1001.3 1404 1001.2 1404.5 1002.6 1405 1001.7 1405.5 1001.8 1406 1002.2 1406.5 1001.8 1407 1002.5 1407.5 1003.3 1408 1003.4 1408.5 1001.8 1409 1000.3 1409.5 1001.6 1410 1003 1410.5 999.3 1411 1001.9 1411.5 1003 1412 1001.6 1412.5 1000.7 1413 1004.2 1413.5 1003.4 1414 1000.8 1414.5 1002.4 1415 1001.8 1415.5 997.8 1416 1001.9 1416.5 996.1 1417 995.8 1417.5 993.3 1418 993.4 1418.5 990 1419 990.1 1419.5 990 1420 987.4 1420.5 985.5 1421 986.9 1421.5 984 1422 984.8 1422.5 982.9 1423 983.5 1423.5 983.3 1424 983.5 1424.5 983.4 1425 982.6 1425.5 983 1426 984.4 1426.5 983.8 1427 982.5 1427.5 984 1428 983.3 1428.5 984.2 1429 984.7 1429.5 984.7 1430 983.8 1430.5 984.7 1431 983 1431.5 981.1 1432 984.9 1432.5 983 1433 984.3 1433.5 986 1434 987.6 1434.5 986.2 1435 989.3 1435.5 989.6 1436 990 1436.5 990.9 1437 995 1437.5 996.2 1438 997.9 1438.5 1000.4 1439 999.3 1439.5 1000.1 1440 1000.2 1440.5 1001.1 1441 1000.9 1441.5 1000.6 1442 1004.6 1442.5 999.8 1443 1002.7 1443.5 1003.1 1444 1002.9 1444.5 1001.5 1445 1002.6 1445.5 1002.3 1446 1001.6 1446.5 1003 1447 1002.5 1447.5 1002.4 1448 1004 1448.5 1001.8 1449 1003.8 1449.5 1002.4 1450 1003.8 1450.5 1003.4 1451 1003.6 1451.5 1002 1452 1002.3 1452.5 1002.2 1453 1003.5 1453.5 1004.3 1454 1004.7 1454.5 1002.7 1455 1003.4 1455.5 1001.2 1456 1000.4 1456.5 1002.2 1457 1002.4 1457.5 1001.2 1458 1000.9 1458.5 1003.9 1459 1002.2 1459.5 1001 1460 1006.2 1460.5 1003.3 1461 1002.7 1461.5 1003.9 1462 1002 1462.5 1005 1463 1000.9 1463.5 1001.1 1464 1002.6 1464.5 1001.7 1465 1004.5 1465.5 1000.5 1466 1001.5 1466.5 1002.7 1467 1003 1467.5 1003.4 1468 1002.4 1468.5 1004.7 1469 1001 1469.5 1001.6 1470 1002.3 1470.5 1000.5 1471 1000.2 1471.5 999.6 1472 999 1472.5 997.8 1473 997.9 1473.5 995.7 1474 996.9 1474.5 992.5 1475 994.6 1475.5 990.2 1476 984 1476.5 975.3 1477 966.5 1477.5 959.6 1478 949.4 1478.5 942.6 1479 936.5 1479.3 936.5 1479.5 935.5 1480 939.6 1480.5 943.1 1481 952.2 1481.5 961.8 1482 967.9 1482.5 973.8 1483 979.6 1483.5 981 1484 984 1484.5 979.6 1485 983.3 1485.5 982.9 1486 979.9 1486.5 980.1 1487 982 1487.5 981.1 1488 982.5 1488.5 985.3 1489 985.5 1489.5 988.2 1490 988.1 1490.5 991.2 1491 993.8 1491.5 994.2 1492 992.1 1492.5 996.8 1493 996.8 1493.5 996.1 1494 999.5 1494.5 995.6 1495 1000.4 1495.5 997.1 1496 999.9 1496.5 997.8 1497 996.1 1497.5 998 1497.9 998 1498 998.7 1498.5 999.5 1499 997.2 1499.5 999.4 1500 1000.1 1500.5 999.2 1501 998.8 1501.5 999.2 1502 1001.8 1502.5 1002.3 1503 1000.5 1503.5 1000.1 1504 1003.7 1504.5 1000.3 1505 1002.7 1505.5 1001.6 1506 1000.5 1506.5 1003 1507 1002.6 1507.5 1004.7 1508 1005.8 1508.5 1002.6 1509 1004.1 1509.5 1004.1 1510 1001.9 1510.5 1001.4 1511 1004.4 1511.5 1001.7 1512 1002 1512.5 1001.5 1513 1001.6 1513.5 1000.8 1514 1002.5 1514.5 1003.1 1515 1001.5 1515.5 999.7 1516 1001.6 1516.5 999.8 1517 1001 1517.5 1003.6 1518 1005.2 1518.5 1002.9 1519 1001.2 1519.5 1003.8 1520 1000 1520.5 1002.2 1521 1005.2 1521.5 1004.3 1522 1001.6 1522.5 1001.3 1523 1004.6 1523.5 1003.5 1524 1002.8 1524.5 1004.2 1525 1002.9 1525.5 1001.2 1526 1004.7 1526.5 1002.8 1527 1002.4 1527.5 1002 1528 1004 1528.5 1002.7 1529 1004.5 1529.5 1003.4 1530 1005.1 1530.5 1003.2 1531 1002.9 1531.5 1001.2 1532 1002.3 1532.5 1004.6 1533 1007.7 1533.5 1002.1 1534 1002.3 1534.5 1004.1 1535 1004.3 1535.5 1002.8 1536 1003.8 1536.5 1001.6 1537 1003.2 1537.5 1004.8 1538 1005.7 1538.5 1003.4 1539 1003.2 1539.5 1004.1 1540 1004.9 1540.5 1004.1 1541 1002.5 1541.5 1003.9 1542 1004.6 1542.5 1002.4 1543 1001.6 1543.5 1003.9 1544 1003.7 1544.5 1004.4 1545 1003.2 1545.5 1002.1 1546 1002.3 1546.5 1001.4 1547 1001.4 1547.5 1001.8 1548 1001.7 1548.5 1003.6 1549 1000.3 1549.5 1001.5 1550 1000.3 1550.5 1002.4 1551 999.8 1551.5 997.6 1552 997.1 1552.5 993.4 1553 989.2 1553.5 987.6 1554 982.1 1554.5 979.2 1555 975.3 1555.5 973.1 1555.7 972 1556 970.9 1556.5 975.2 1557 977.9 1557.5 982.9 1558 986.5 1558.5 989.6 1559 992.6 1559.5 997.4 1560 1000 1560.5 999.3 1561 1001.1 1561.5 1002.9 1562 1000.5 1562.5 1001.4 1563 1000.6 1563.5 1003.8 1564 1002.8 1564.5 1002 1565 1000.5 1565.5 1002.5 1566 1004.1 1566.5 1002.5 1567 1002.4 1567.5 1003.8 1568 1001.5 1568.5 1003.2 1569 1003.9 1569.5 1002.1 1570 1002.1 1570.5 1003.5 1571 1003 1571.5 1002.9 1572 1003.4 1572.5 1003.4 1573 1001.9 1573.5 1002.3 1574 1003.7 1574.5 1004.5 1575 1004.8 1575.5 1001.9 1576 1004.3 1576.5 1003.8 1577 1002.7 1577.5 1003.3 1578 1003.6 1578.5 1004.7 1579 1000.9 1579.5 1002.8 1580 1001.6 1580.5 1001.2 1581 1002.4 1581.5 1001.3 1582 997.8 1582.5 997.2 1583 995.6 1583.5 990.6 1584 990 1584.5 984.8 1585 981.2 1585.5 978.1 1586 977.8 1586.4 975 1586.5 974.5 1587 978.4 1587.5 978.2 1588 981.8 1588.5 984.7 1589 991.7 1589.5 994 1590 996.9 1590.5 998.5 1591 999.4 1591.5 999.5 1592 1000.2 1592.5 1002.1 1593 1002.1 1593.5 1004.2 1594 1001.3 1594.5 1001.8 1595 1001.3 1595.5 1004.5 1596 1001.2 1596.5 1003.9 1597 1004.8 1597.5 1002.8 1598 1004 1598.5 1000.3 1599 1002.6 1599.5 1001 1600 1003.4 1600.5 1003.2 1601 1002.2 1601.5 1004.4 1602 1003.6 1602.5 1002.5 1603 1002.5 1603.5 1001.2 1604 1002.8 1604.5 1005.8 1605 1002.1 1605.5 1003.5 1606 1002.2 1606.5 1003.9 1607 1003.3 1607.5 1002.4 1608 1000.3 1608.5 1001.8 1609 1003.9 1609.5 1001.9 1610 1002.8 1610.5 1001.2 1611 999.1 1611.5 1001.7 1612 1001.1 1612.5 999.3 1613 998.6 1613.5 998.1 1614 994.9 1614.5 993.2 1615 988.6 1615.5 981.2 1616 978.8 1616.5 973.1 1617 968.4 1617.5 967.2 1617.9 966 1618 966.7 1618.5 969 1619 971.3 1619.5 973.9 1620 980.2 1620.5 987.4 1621 990.2 1621.5 993 1622 996.4 1622.5 999 1623 999.9 1623.5 1001.2 1624 999.9 1624.5 1001 1625 1001.4 1625.5 1001.9 1626 999.5 1626.5 1002 1627 1000.8 1627.5 1004.4 1628 1004.7 1628.5 1005 1629 1004 1629.5 1002.4 1630 1004.3 1630.5 1002.9 1631 1004 1631.5 1002.1 1632 1002.5 1632.5 1003.9 1633 1005.6 1633.5 1003.3 1634 1006.3 1634.5 1007 1635 1001.8 1635.5 1003.4 1636 1002.3 1636.5 1003.3 1637 1002.8 1637.5 1003.5 1638 1004.8 1638.5 1004.8 1639 1003.9 1639.5 1003.6 1640 1003.8 1640.5 1003.8 1641 1004.4 1641.5 1003.6 1642 1004.3 1642.5 1001.9 1643 1004.7 1643.5 1005.9 1644 1003.9 1644.5 1001.8 1645 1005.4 1645.5 1003.2 1646 999.8 1646.5 1003.4 1647 1004.4 1647.5 1004.1 1648 1005.2 1648.5 1004.4 1649 1003.8 1649.5 1001.1 1650 1002.2 1650.5 1003.8 1651 1004.5 1651.5 1002.3 1652 1002.8 1652.5 1004.2 1653 1001.1 1653.5 1001 1654 1003.2 1654.5 1003.8 1655 1002.9 1655.5 1000.5 1656 1003.5 1656.5 1001.7 1657 1004.2 1657.5 1003.2 1658 1003.6 1658.5 1004.1 1659 1002.5 1659.5 1004.2 1660 1004.7 1660.5 1003.6 1661 1004.7 1661.5 1002.1 1662 1004 1662.5 1003 1663 1001.2 1663.5 1002.2 1664 1001.3 1664.5 1000.9 1665 1001.3 1665.5 1002 1666 999.5 1666.5 999.2 1667 996.2 1667.5 997.1 1668 997.1 1668.5 995.3 1669 993.4 1669.5 990.7 1670 988.8 1670.5 988.7 1671 986.2 1671.5 985.7 1672 988.2 1672.1 987 1672.5 989.4 1673 985.8 1673.5 989 1674 988 1674.5 991 1675 990.9 1675.5 993.7 1676 994.9 1676.5 995.8 1677 998.3 1677.5 1000.6 1678 998.8 1678.5 1001.5 1679 1001 1679.5 1001.4 1680 1004.6 1680.5 999.3 1681 1001.5 1681.5 1000.2 1682 1002.3 1682.5 1002.5 1683 1007.8 1683.5 1003.4 1684 1005.4 1684.5 1004.8 1685 1002.6 1685.5 1003.8 1686 1005.4 1686.5 1003.5 1687 1003.6 1687.5 1004 1688 1001.4 1688.5 1002.3 1689 1003.8 1689.5 1004.1 1690 1002.2 1690.5 1003 1691 1003.3 1691.5 1003.3 1692 1004.4 1692.5 1003.6 1693 1003.7 1693.5 1001.7 1694 1002.1 1694.5 1003.9 1695 1001.5 1695.5 1003.9 1696 1002.7 1696.5 1002.5 1697 1004.4 1697.5 1002.7 1698 1002.4 1698.5 1002.7 1699 1003.6 1699.5 1007.1 1700 1000.8 1700.5 1003.5 1701 1003.2 1701.5 1004.8 1702 1003.1 1702.5 1000.4 1703 1005.3 1703.5 1002.1 1704 1003.5 1704.5 1001.8 1705 1002.1 1705.5 1002.9 1706 1004.7 1706.5 1004.6 1707 1002.8 1707.5 1004.2 1708 1003.1 1708.5 1003.7 1709 1003.7 1709.5 1004.3 1710 1002.7 1710.5 1003.3 1711 1003.8 1711.5 1003.6 1712 1002.5 1712.5 1005.7 1713 1002.9 1713.5 1004.5 1714 1003.7 1714.5 1005.1 1715 1000.7 1715.5 1006.1 1716 1003.2 1716.5 1001.9 1717 1003.6 1717.5 1006.4 1718 1004.1 1718.5 1001.8 1719 1002.8 1719.5 1005.1 1720 1001.6 1720.5 1003.2 1721 1003 1721.5 1006.2 1722 1003 1722.5 1005 1723 1002.5 1723.5 1002.3 1724 1004.6 1724.5 1004.1 1725 1001 1725.5 1004.1 1726 1004.1 1726.5 1002.4 1727 1003.5 1727.5 1003.5 1728 1002.5 1728.5 1002.4 1729 1002.3 1729.5 1002.7 1730 1001.4 1730.5 1003 1731 1001.1 1731.5 1003.1 1732 1002.8 1732.5 1001.6 1733 1004 1733.5 1005.3 1734 1004.5 1734.5 1001 1735 1004.3 1735.5 1002.9 1736 1002.5 1736.5 1001.7 1737 1002.4 1737.5 1004.1 1738 1002.9 1738.5 1001.6 1739 1001.1 1739.5 1001.2 1740 1002.3 1740.5 1003.7 1741 999.5 1741.5 1000.4 1742 999.3 1742.5 998.1 1743 998.7 1743.5 997.8 1744 993.9 1744.5 992.9 1745 994 1745.5 991 1746 989.2 1746.5 985.9 1747 984.1 1747.5 983.4 1748 980.6 1748.5 978.8 1749 979.6 1749.3 979.5 1749.5 978.2 1750 981.3 1750.5 981.8 1751 981.1 1751.5 983.9 1752 985.8 1752.5 988.6 1753 990.6 1753.5 989.9 1754 991.5 1754.5 996 1755 996 1755.5 997.4 1756 998 1756.5 1000 1757 996.7 1757.5 999.8 1758 997.3 1758.5 999 1759 999.5 1759.5 995.5 1760 997.4 1760.5 996 1761 995.5 1761.5 995.6 1762 993.8 1762.5 993.8 1762.9 995 1763 996 1763.5 994.3 1764 993.4 1764.5 998.6 1765 997.5 1765.5 997 1766 995.7 1766.5 996.7 1767 998.2 1767.5 996.9 1768 1000.4 1768.5 998.6 1769 998.8 1769.5 996.7 1770 996.4 1770.5 995.9 1771 996.3 1771.5 994.6 1772 993.2 1772.5 992.6 1773 990.9 1773.5 990.9 1774 987.2 1774.5 984.7 1775 984.7 1775.5 985.6 1776 982.4 1776.4 983 1776.5 982.5 1777 983.7 1777.5 984.1 1778 983.7 1778.5 985.6 1779 988.5 1779.5 990.1 1780 991.2 1780.5 992.3 1781 991.7 1781.5 992.4 1782 994.4 1782.5 991.7 1783 992.8 1783.5 989.6 1784 990.3 1784.5 988.3 1785 985.7 1785.5 985.8 1786 981.7 1786.5 979.6 1787 977.4 1787.5 974.5 1788 975.4 1788.5 971.6 1789 971.8 1789.3 971.5 1789.5 970.9 1790 971.8 1790.5 973.2 1791 974.7 1791.5 977.9 1792 982.3 1792.5 982.8 1793 985.4 1793.5 987.6 1794 993.7 1794.5 994.6 1795 995 1795.5 996.7 1796 996.2 1796.5 997.9 1797 999.2 1797.5 999.7 1798 998.9 1798.5 999.4 1799 1001.3 1799.5 1001.3 1800 998.4 1800.5 1001.4 1801 1003 1801.5 1000.7 1802 1001.9 1802.5 999.8 1803 1002.8 1803.5 1000.4 1804 1000.2 1804.5 1001.4 1805 1004.9 1805.5 1001.1 1806 1000.3 1806.5 1002.5 1807 1002.2 1807.5 1004 1808 1000.2 1808.5 999.6 1809 1001.1 1809.5 1001.9 1810 1001.6 1810.5 1002.2 1811 998.6 1811.5 999.1 1812 999.5 1812.5 1000.2 1813 999.2 1813.5 997.5 1814 996.2 1814.5 998.1 1815 997.7 1815.5 999.7 1816 995.8 1816.4 996 1816.5 994.4 1817 995.4 1817.5 995.5 1818 996.1 1818.5 996 1819 997 1819.5 998.2 1820 998.2 1820.5 1000.2 1821 999.7 1821.5 1000.3 1822 1002.5 1822.5 1001.4 1823 1001.4 1823.5 1001.4 1824 1001.7 1824.5 1002.5 1825 1000.8 1825.5 1003.3 1826 1003.9 1826.5 1003.4 1827 1001.3 1827.5 999.9 1828 1001.3 1828.5 1002 1829 1002.8 1829.5 1001.5 1830 1001.3 1830.5 1003.6 1831 1000.7 1831.5 1002.8 1832 1002.5 1832.5 999.6 1833 1001.5 1833.5 1000.3 1834 999.6 1834.5 998.3 1835 998.4 1835.5 1000.7 1836 999.3 1836.5 999.5 1837 996.9 1837.5 996.3 1838 993.2 1838.5 985.7 1839 974.8 1839.5 958.9 1840 928.5 1840.5 882.5 1841 822.3 1841.5 746.6 1842 661.7 1842.5 572.2 1843 501.4 1843.5 456.8 1843.9 442 1844 444.6 1844.5 465.6 1845 529.2 1845.5 607.1 1846 692.4 1846.5 779.2 1847 850.5 1847.5 905.3 1848 943.8 1848.5 967.2 1849 981.4 1849.5 990.4 1850 995.5 1850.5 998.5 1851 998.7 1851.5 1000.1 1852 1001.7 1852.5 1001.4 1853 1004.2 1853.5 1004.3 1854 1000.3 1854.5 1001.3 1855 1000.5 1855.5 1000.8 1856 1003.2 1856.5 1001.3 1857 1001.4 1857.5 1002.5 1858 1004 1858.5 1002.6 1859 1002.7 1859.5 1004.4 1860 1003.9 1860.5 1003.9 1861 1004.6 1861.5 1002.1 1862 1003.8 1862.5 1002.7 1863 1004.9 1863.5 1004.6 1864 1002.3 1864.5 1005.4 1865 1002.2 1865.5 1005.2 1866 1004 1866.5 1002.6 1867 1002.3 1867.5 1003.4 1868 1003.8 1868.5 1002.9 1869 1004.6 1869.5 1002.1 1870 1003.9 1870.5 1003.9 1871 1001.5 1871.5 1004.3 1872 1002.3 1872.5 1000.7 1873 1003.2 1873.5 1003.7 1874 1005.1 1874.5 1003.3 1875 1005.9 1875.5 1005.8 1876 1005.4 1876.5 1005.7 1877 1004.4 1877.5 1003.3 1878 1004.8 1878.5 1005.2 1879 1004.3 1879.5 1003.7 1880 1002 1880.5 1004.9 1881 1004.5 1881.5 1002.3 1882 1004.1 1882.5 1004.9 1883 1003.9 1883.5 1005 1884 1005 1884.5 1002.1 1885 1003.6 1885.5 1004.6 1886 1005.2 1886.5 1005.8 1887 1001.5 1887.5 1003.9 1888 1004.9 1888.5 1005.5 1889 1006.1 1889.5 1002.7 1890 1003.4 1890.5 1002.5 1891 1004.9 1891.5 1002.1 1892 1005.3 1892.5 1005 1893 1004.3 1893.5 1000.9 1894 1002.7 1894.5 1004.4 1895 1001.5 1895.5 1002.9 1896 1002.9 1896.5 1004 1897 1002.9 1897.5 1002.6 1898 1001.4 1898.5 1001.6 1899 1001.1 1899.5 1001.9 1900 1000.4 1900.5 1001.7 1901 998 1901.5 1001.6 1901.9 1000 1902 1001.4 1902.5 1000.1 1903 1001.2 1903.5 1002.2 1904 999.7 1904.5 1000.8 1905 1000.7 1905.5 1001.5 1906 999.4 1906.5 1001.4 1907 1001.4 1907.5 1000.8 1908 1001.5 1908.5 999.7 1909 1003.3 1909.5 1001.8 1910 1003.2 1910.5 999.2 1911 998.1 1911.5 999.2 1912 995.8 1912.5 997.2 1913 994.9 1913.5 994.2 1914 993.7 1914.5 992.3 1915 993.6 1915.5 991.1 1916 987.9 1916.5 989 1917 986.9 1917.5 988.5 1918 986.8 1918.5 987.3 1919 990.1 1919.5 987.8 1920 987.7 1920.5 987.8 1921 988 1921.5 990.1 1922 986.6 1922.5 986.4 1923 988 1923.5 985.9 1924 987.5 1924.5 989.4 1925 988.1 1925.5 987.5 1926 987.3 1926.5 987.1 1927 987.6 1927.5 988.6 1928 990.3 1928.5 990.2 1929 989.5 1929.5 989.1 1930 991.8 1930.5 989.4 1931 992.2 1931.5 993.5 1932 993.5 1932.5 994.7 1933 997.4 1933.5 995.7 1934 997.3 1934.5 998.2 1935 999.6 1935.5 998 1936 1001.3 1936.5 999.5 1937 999.5 1937.5 999.3 1938 998.8 1938.5 998.3 1939 1000.9 1939.5 999.6 1940 999.5 1940.5 1000.8 1941 998.8 1941.5 1000.8 1942 1000.4 1942.5 999.6 1943 1002.1 1943.5 999.6 1944 1002.7 1944.5 1001.1 1945 1003 1945.5 1004.6 1946 1003.7 1946.5 1002.4 1947 1003.3 1947.5 1003 1948 1002.1 1948.5 1002.3 1949 1003.8 1949.5 1004.5 1950 1001.6 1950.5 1003.8 1951 1004.6 1951.5 1004.1 1952 1002.7 1952.5 1005.4 1953 1002.5 1953.5 1004.9 1954 1006.2 1954.5 1001.5 1955 1004.5 1955.5 1004.6 1956 1004.5 1956.5 1003.2 1957 1003.8 1957.5 1002.4 1958 1004.4 1958.5 1004.9 1959 1003.4 1959.5 1003.1 1960 1003.7 1960.5 1004.3 1961 1004.4 1961.5 1004.2 1962 1004.4 1962.5 1002.6 1963 1000.8 1963.5 1005.1 1964 1006.1 1964.5 1002.5 1965 1003.5 1965.5 1004.7 1966 1005.6 1966.5 1005.2 1967 1006 1967.5 1004.3 1968 1004.9 1968.5 1004.9 1969 1003.8 1969.5 1005.9 1970 1005.2 1970.5 1005.6 1971 1003.9 1971.5 1005.7 1972 1003 1972.5 1004.9 1973 1001 1973.5 1003.1 1974 1005.3 1974.5 1003.8 1975 1004.6 1975.5 1002.3 1976 1006.3 1976.5 1005.1 1977 1004.3 1977.5 1004.9 1978 1004.8 1978.5 1006.2 1979 1004.6 1979.5 1002.5 1980 1004 1980.5 1006 1981 1005.1 1981.5 1003.8 1982 1005.1 1982.5 1004.5 1983 1005.1 1983.5 1002.3 1984 1003.1 1984.5 1005.1 1985 1004 1985.5 1004.7 1986 1006.7 1986.5 1003.8 1987 1004.5 1987.5 1003.5 1988 1003.4 1988.5 1004.1 1989 1002.3 1989.5 1001.4 1990 1005.8 1990.5 1003.9 1991 1005.5 1991.5 1004.1 1992 1004.1 1992.5 1004.8 1993 1004.8 1993.5 1002.3 1994 1005.3 1994.5 1002.5 1995 1003.9 1995.5 1006.8 1996 1003.6 1996.5 1005.5 1997 1002.8 1997.5 1003.9 1998 1003 1998.5 1003.2 1999 1001.2 1999.5 1000.8 2000 1001.8 2000.5 998.8 2001 998.8 2001.5 999.7 2002 996.9 2002.5 995 2003 993.1 2003.5 992.8 2004 990.1 2004.5 988.6 2005 986.1 2005.5 986.7 2006 982 2006.5 978.7 2007 980.4 2007.5 979.9 2007.6 980 2008 978 2008.5 982.2 2009 982 2009.5 983.6 2010 983.5 2010.5 988.2 2011 989.7 2011.5 993.5 2012 993.3 2012.5 994 2013 997.3 2013.5 997.3 2014 1000.1 2014.5 999.1 2015 1001.1 2015.5 1001.5 2016 1002.2 2016.5 1002 2017 1001.9 2017.5 1003 2018 1002.6 2018.5 1003.6 2019 1003.2 2019.5 1000.8 2020 1003.6 2020.5 1005.6 2021 1004.3 2021.5 1004.7 2022 1004.6 2022.5 1003.4 2023 1002.4 2023.5 1005.1 2024 1005.5 2024.5 1004.9 2025 1004.8 2025.5 1004.8 2026 1004.3 2026.5 1004.7 2027 1004.4 2027.5 1004.8 2028 1003.2 2028.5 1003.6 2029 1005.1 2029.5 1004 2030 1001.4" stroke="#ff0000" stroke-width="11.5" fill="none" stroke-linejoin="round" stroke-linecap="round"/>
<path d="M191 1303L191.5 1305.4 192 1304.7 192.5 1303.9 193 1306.7 193.5 1306.2 194 1311.2 194.5 1316.3 195 1310.8 195.5 1311.1 196 1315.6 196.5 1315.9 197 1315.8 197.5 1313.2 198 1316.9 198.5 1319.6 199 1313.3 199.5 1316.5 200 1312.1 200.5 1314.5 201 1313 201.5 1318.5 202 1315.6 202.5 1320.7 203 1320.7 203.5 1319.9 204 1313.1 204.5 1319.5 205 1321.3 205.5 1322 206 1317.3 206.5 1320.7 207 1319.4 207.5 1320.1 208 1325.9 208.5 1320.6 209 1323.1 209.5 1326 210 1321.9 210.5 1323.5 211 1324.3 211.5 1324.4 212 1321 212.5 1324.9 213 1328.7 213.5 1320.7 214 1327.7 214.5 1325.8 215 1323.9 215.5 1331.4 216 1328.2 216.5 1323.1 217 1326.8 217.5 1328.3 218 1326.5 218.5 1329 219 1327.1 219.5 1329.2 220 1331.4 220.5 1326 221 1328.4 221.5 1326.8 222 1328.5 222.5 1325.3 223 1327 223.5 1328.1 224 1331.1 224.5 1331.8 225 1325.7 225.5 1327.2 226 1331 226.5 1324.6 227 1328.5 227.5 1329.6 228 1333.1 228.5 1331.8 229 1329.5 229.5 1329.5 230 1330 230.5 1334.4 231 1329.9 231.5 1330.3 232 1332 232.5 1331 233 1331 233.5 1329 234 1331.8 234.5 1330.9 235 1334.8 235.5 1333.7 236 1332.3 236.5 1334.1 237 1331.9 237.5 1335.2 238 1333 238.5 1334.4 239 1330.3 239.5 1334.1 240 1329.6 240.5 1329 241 1332.9 241.5 1331.7 242 1334.2 242.5 1338.8 243 1332.2 243.5 1332.7 244 1334.6 244.5 1335.4 245 1334 245.5 1334.1 246 1336.1 246.5 1335.8 247 1332.6 247.5 1334.8 248 1335.1 248.5 1332.9 249 1335.8 249.5 1333.5 250 1337.4 250.5 1335.9 251 1335.8 251.5 1334.5 252 1335.6 252.5 1331.9 253 1333.7 253.5 1336.9 254 1332 254.5 1338.1 255 1332.9 255.5 1338.1 256 1335 256.5 1338.3 257 1337.1 257.5 1333.9 258 1339.5 258.5 1340 259 1337.1 259.5 1336.8 260 1337.2 260.5 1335.6 261 1339.7 261.5 1336.6 262 1337.6 262.5 1336.2 263 1336.6 263.5 1335.4 264 1340.3 264.5 1337.7 265 1339.9 265.5 1338.1 266 1336.9 266.5 1337.6 267 1337.2 267.5 1338.4 268 1337.7 268.5 1337.9 269 1336 269.5 1337.1 270 1341.7 270.5 1337.5 271 1336.8 271.5 1339.4 272 1341.4 272.5 1336.3 273 1338.6 273.5 1337.9 274 1335.9 274.5 1340.5 275 1339.2 275.5 1339.4 276 1338 276.5 1340.2 277 1338.5 277.5 1339.2 278 1337.6 278.5 1337.5 279 1342 279.5 1338.8 280 1340.3 280.5 1339.8 281 1339.1 281.5 1339.1 282 1341.1 282.5 1339.5 283 1339.9 283.5 1340.2 284 1342.3 284.5 1341.5 285 1341 285.5 1339.4 286 1338.1 286.5 1342.1 287 1342.2 287.5 1340.4 288 1341.6 288.5 1342.1 289 1342.2 289.5 1342.4 290 1340.2 290.5 1343.5 291 1339 291.5 1342.6 292 1342 292.5 1342.7 293 1344.4 293.5 1343.8 294 1339.5 294.5 1338.7 295 1342.9 295.5 1340 296 1341.7 296.5 1343.1 297 1339.1 297.5 1338.4 298 1342.3 298.5 1342.1 299 1341.6 299.5 1342.2 300 1340.8 300.5 1339.8 301 1342 301.5 1340.8 302 1339.8 302.5 1343.3 303 1342.4 303.5 1343.2 304 1341.1 304.5 1341.7 305 1341.2 305.5 1341.4 306 1343.2 306.5 1341.7 307 1343.6 307.5 1343.6 308 1346.3 308.5 1341 309 1344.6 309.5 1343.2 310 1343.4 310.5 1341.2 311 1342.8 311.5 1344.7 312 1343.5 312.5 1343.8 313 1343.3 313.5 1345.6 314 1343.8 314.5 1340.5 315 1342.9 315.5 1341 316 1339.1 316.5 1343.3 317 1346.3 317.5 1344.4 318 1342.6 318.5 1343 319 1346.2 319.5 1344.8 320 1344.7 320.5 1344.6 321 1344.8 321.5 1346 322 1345.7 322.5 1345.2 323 1343.4 323.5 1345.7 324 1344 324.5 1346.6 325 1343.1 325.5 1344.8 326 1345.1 326.5 1343.1 327 1347.7 327.5 1347.3 328 1344.5 328.5 1346.3 329 1345.7 329.5 1341.3 330 1345.6 330.5 1345.2 331 1345.4 331.5 1343.7 332 1344.9 332.5 1345.1 333 1347.1 333.5 1345.9 334 1345.4 334.5 1347.6 335 1344.6 335.5 1344.9 336 1342.8 336.5 1347.8 337 1346.9 337.5 1346.9 338 1346.5 338.5 1345.7 339 1345.9 339.5 1345.2 340 1345.3 340.5 1345.7 341 1347.8 341.5 1346.5 342 1345.6 342.5 1344.9 343 1344.8 343.5 1348.1 344 1346.5 344.5 1345.9 345 1345.3 345.5 1344.2 346 1345.8 346.5 1347.1 347 1345.3 347.5 1345.6 348 1345.6 348.5 1346.1 349 1343.7 349.5 1345.7 350 1344.8 350.5 1347.3 351 1344.9 351.5 1346.9 352 1348.2 352.5 1345.7 353 1345.3 353.5 1346.4 354 1346.2 354.5 1344.8 355 1346.8 355.5 1349.1 356 1345.9 356.5 1346 357 1344.8 357.5 1346.7 358 1344.6 358.5 1344.8 359 1348.1 359.5 1345.1 360 1347.9 360.5 1348.5 361 1346.8 361.5 1347.2 362 1349.2 362.5 1346.2 363 1345.6 363.5 1344.6 364 1346.5 364.5 1348.6 365 1347.9 365.5 1345.2 366 1345.3 366.5 1345.9 367 1347 367.5 1346.3 368 1346.9 368.5 1347 369 1346.2 369.5 1346.6 370 1346.9 370.5 1346.5 371 1347.4 371.5 1349.3 372 1347.5 372.5 1346.8 373 1344.4 373.5 1347.3 374 1344 374.5 1344.8 375 1347.9 375.5 1347.7 376 1346.6 376.5 1344.4 377 1346.3 377.5 1345.9 378 1347.7 378.5 1349.9 379 1347.1 379.5 1345.8 380 1345.2 380.5 1346.8 381 1346.6 381.5 1345.3 382 1347 382.5 1345.3 383 1348.4 383.5 1348.4 384 1348.4 384.5 1346.3 385 1347.6 385.5 1346.8 386 1346.4 386.5 1346.5 387 1345.2 387.5 1345 388 1348 388.5 1346.7 389 1347.3 389.5 1348.3 390 1344.6 390.5 1345.9 391 1347.2 391.5 1347.5 392 1346.4 392.5 1348.3 393 1347.2 393.5 1345.3 394 1345.7 394.5 1348 395 1347.5 395.5 1344.3 396 1348.7 396.5 1347.7 397 1348.7 397.5 1346.3 398 1346.4 398.5 1345.3 399 1350.2 399.5 1346.5 400 1348.8 400.5 1345.8 401 1346.8 401.5 1344.3 402 1345.9 402.5 1347.7 403 1344.6 403.5 1347.6 404 1346.5 404.5 1344.5 405 1345.1 405.5 1345 406 1345.4 406.5 1344.5 407 1343.9 407.5 1344.3 408 1342.9 408.5 1342.1 409 1343.1 409.5 1343.4 410 1338.6 410.5 1338 411 1332.8 411.5 1325.5 412 1317.4 412.5 1300.7 413 1283.9 413.5 1257.5 414 1234 414.5 1209.7 415 1190.8 415.5 1183.2 415.7 1181.5 416 1184.3 416.5 1194.9 417 1213 417.5 1238.5 418 1263.7 418.5 1287.6 419 1303.7 419.5 1318.9 420 1326.4 420.5 1336 421 1337.6 421.5 1339 422 1342.8 422.5 1345.3 423 1342.4 423.5 1343.5 424 1344.3 424.5 1344.1 425 1346.4 425.5 1345.1 426 1345.4 426.5 1347.4 427 1345.7 427.5 1347.5 428 1345.8 428.5 1345.6 429 1344.9 429.5 1349.9 430 1347.1 430.5 1347.9 431 1347.6 431.5 1348 432 1347.9 432.5 1350.4 433 1346.6 433.5 1346 434 1346.7 434.5 1346.4 435 1349.2 435.5 1349.3 436 1347 436.5 1346.5 437 1347.9 437.5 1350.3 438 1344.7 438.5 1349.2 439 1347.1 439.5 1349.9 440 1347.2 440.5 1348.3 441 1346.7 441.5 1347.4 442 1350.6 442.5 1349.8 443 1348.3 443.5 1347.7 444 1346.3 444.5 1348.4 445 1348.9 445.5 1348.8 446 1348.8 446.5 1347.5 447 1348.9 447.5 1349 448 1350.8 448.5 1351.5 449 1348.9 449.5 1348.1 450 1349.1 450.5 1348.4 451 1348.2 451.5 1349.1 452 1347.8 452.5 1350 453 1349.1 453.5 1349.6 454 1349 454.5 1348.3 455 1348 455.5 1348.9 456 1348.5 456.5 1349.6 457 1349.3 457.5 1347.5 458 1349.4 458.5 1347.5 459 1348.5 459.5 1348.9 460 1346.6 460.5 1349.4 461 1349.5 461.5 1349.1 462 1348.8 462.5 1348.9 463 1348.1 463.5 1349 464 1348.6 464.5 1349.5 465 1347.8 465.5 1349.7 466 1349.6 466.5 1349.2 467 1348.8 467.5 1350.1 468 1347.2 468.5 1350 469 1349.7 469.5 1349.8 470 1349.9 470.5 1348.5 471 1349.1 471.5 1350.2 472 1350 472.5 1349.7 473 1347.4 473.5 1350.1 474 1350.9 474.5 1350.7 475 1349.7 475.5 1347.4 476 1350.6 476.5 1349.2 477 1346.1 477.5 1349.9 478 1347.4 478.5 1347.7 479 1348.6 479.5 1351.1 480 1348.9 480.5 1349.7 481 1351.7 481.5 1351.5 482 1349.2 482.5 1349 483 1347.7 483.5 1348.4 484 1349.9 484.5 1349.8 485 1349.5 485.5 1350.6 486 1348.3 486.5 1349.2 487 1350.2 487.5 1350 488 1350.6 488.5 1349.7 489 1348.8 489.5 1349.6 490 1347.8 490.5 1347 491 1349.8 491.5 1349 492 1349.4 492.5 1346.7 493 1348.4 493.5 1348.1 494 1347.7 494.5 1345.8 495 1348.2 495.5 1349.8 496 1349 496.5 1347.6 497 1348.3 497.5 1349.2 498 1344.5 498.5 1347.8 499 1348.5 499.5 1348.5 500 1349.6 500.5 1348.6 501 1347.2 501.5 1346.8 502 1347 502.5 1344.5 503 1344 503.5 1343.1 504 1340.8 504.5 1331.3 505 1320.2 505.5 1302.5 506 1277.3 506.5 1239.1 507 1195.5 507.5 1141.1 508 1091.2 508.5 1048 509 1021.7 509.4 1013.5 509.5 1012 510 1028.3 510.5 1064.5 511 1110.5 511.5 1161.3 512 1214.2 512.5 1255.6 513 1288.1 513.5 1309.9 514 1326.9 514.5 1334.5 515 1341.6 515.5 1341.9 516 1343.7 516.5 1346 517 1345.5 517.5 1347.7 518 1347.5 518.5 1346.3 519 1347.8 519.5 1347.5 520 1349.3 520.5 1347.5 521 1347.9 521.5 1350.2 522 1351.7 522.5 1351.5 523 1349 523.5 1349.3 524 1351.1 524.5 1349.1 525 1348 525.5 1349.5 526 1350 526.5 1348.4 527 1347.4 527.5 1347.7 528 1350.5 528.5 1348.7 529 1349.5 529.5 1350 530 1350.6 530.5 1349.4 531 1350.5 531.5 1348.7 532 1349.4 532.5 1348.6 533 1351.4 533.5 1349.9 534 1349 534.5 1349.6 535 1349.8 535.5 1351 536 1348 536.5 1348.8 537 1349.6 537.5 1353.4 538 1351.4 538.5 1350 539 1351.1 539.5 1352.9 540 1349.9 540.5 1349.8 541 1351.8 541.5 1350.9 542 1351.2 542.5 1349.6 543 1352.8 543.5 1352.5 544 1351.1 544.5 1351.2 545 1347.7 545.5 1351.2 546 1350.1 546.5 1350.9 547 1351.3 547.5 1350 548 1348.2 548.5 1350.9 549 1349.5 549.5 1350 550 1349.7 550.5 1350 551 1347.4 551.5 1352 552 1350.8 552.5 1351.9 553 1353.1 553.5 1350.5 554 1348.1 554.5 1349.3 555 1348.9 555.5 1349.9 556 1350.6 556.5 1347.9 557 1351 557.5 1348.6 558 1350.9 558.5 1350.4 559 1350.1 559.5 1350.4 560 1349.8 560.5 1349.7 561 1348.4 561.5 1350.5 562 1353 562.5 1353.2 563 1352.3 563.5 1351.5 564 1349.7 564.5 1352.5 565 1350.6 565.5 1350.6 566 1350.3 566.5 1350.8 567 1350.1 567.5 1350.6 568 1349.3 568.5 1350.2 569 1353.6 569.5 1350.6 570 1350.3 570.5 1351.3 571 1351.5 571.5 1349.2 572 1350.3 572.5 1351.7 573 1350.9 573.5 1350.6 574 1352.5 574.5 1349.5 575 1350.4 575.5 1349.6 576 1352.1 576.5 1347.5 577 1349.1 577.5 1349.2 578 1350.6 578.5 1350.3 579 1351.2 579.5 1347.1 580 1349.9 580.5 1348.2 581 1347.3 581.5 1348.4 582 1345.9 582.5 1343.4 583 1344.4 583.5 1340.9 584 1339.1 584.5 1336.3 585 1330.7 585.5 1325.3 586 1314.8 586.5 1304.5 587 1297.8 587.5 1291.9 588 1289 588.1 1290.5 588.5 1290.9 589 1293.7 589.5 1304.3 590 1311.6 590.5 1320.7 591 1328 591.5 1334.9 592 1338.8 592.5 1343.8 593 1345.1 593.5 1346.6 594 1347.7 594.5 1346.1 595 1348.3 595.5 1348.6 596 1349.6 596.5 1347.9 597 1352.1 597.5 1350.3 598 1348.8 598.5 1348.3 599 1350.3 599.5 1350.7 600 1350 600.5 1351.2 601 1350.3 601.5 1351.9 602 1350.3 602.5 1351.3 603 1352.6 603.5 1354.7 604 1350.1 604.5 1350.8 605 1350.2 605.5 1352.3 606 1349.7 606.5 1350.5 607 1350.9 607.5 1349.5 608 1349.2 608.5 1349.3 609 1346.5 609.5 1346.2 610 1345.9 610.5 1344.4 611 1341.3 611.5 1336.1 612 1334.7 612.5 1333.6 613 1331.4 613.5 1330 614 1329.6 614.5 1333.5 615 1334.8 615.5 1337.2 616 1340.9 616.5 1346.6 617 1347.2 617.5 1350.1 618 1349.2 618.5 1351.9 619 1350.5 619.5 1351.5 620 1355.2 620.5 1353.2 621 1351.7 621.5 1352.4 622 1353.1 622.5 1354.4 623 1352.2 623.5 1350.7 624 1352.7 624.5 1353.2 625 1353.4 625.5 1355 626 1353.8 626.5 1354.5 627 1352 627.5 1354.6 628 1356.3 628.5 1354.6 629 1354 629.5 1353.9 630 1356 630.5 1352.5 631 1353.6 631.5 1354.4 632 1354.8 632.5 1353.3 633 1354.3 633.5 1353.5 634 1354.1 634.5 1353.8 635 1352.5 635.5 1354 636 1355.1 636.5 1352.8 637 1353.7 637.5 1354.9 638 1352.7 638.5 1354.3 639 1352.7 639.5 1355.6 640 1357.1 640.5 1356.7 641 1353.8 641.5 1355.1 642 1354.3 642.5 1354.2 643 1356.1 643.5 1352.4 644 1355.5 644.5 1354 645 1355.9 645.5 1354.3 646 1353.1 646.5 1354.3 647 1354.9 647.5 1354 648 1354.5 648.5 1353.1 649 1351 649.5 1354.8 650 1354.5 650.5 1353.7 651 1353.5 651.5 1354.6 652 1352.5 652.5 1352 653 1352.5 653.5 1354.1 654 1350.4 654.5 1353.5 655 1350.7 655.5 1349.4 656 1351.6 656.5 1348.2 657 1343.7 657.5 1339.8 658 1332.9 658.5 1319.3 659 1296.2 659.5 1268.3 660 1231.9 660.5 1187.7 661 1145.6 661.5 1107 662 1080.2 662.5 1071.5 663 1081 663.5 1107.2 664 1144.6 664.5 1188.2 665 1232.6 665.5 1268.3 666 1298.3 666.5 1319.6 667 1332.8 667.5 1343.7 668 1344.8 668.5 1349.9 669 1350.1 669.5 1353.9 670 1354.4 670.5 1350.1 671 1351.8 671.5 1354.2 672 1354.6 672.5 1354.8 673 1354 673.5 1354.9 674 1355.3 674.5 1354.5 675 1356.1 675.5 1351.9 676 1355.8 676.5 1353.8 677 1356.4 677.5 1355 678 1354.2 678.5 1355.9 679 1354.4 679.5 1354.4 680 1353.6 680.5 1355.7 681 1356.4 681.5 1357.2 682 1355.7 682.5 1357.3 683 1356 683.5 1355.9 684 1356.9 684.5 1357.5 685 1355.8 685.5 1355.9 686 1356.1 686.5 1356.4 687 1355.2 687.5 1357.7 688 1355.9 688.5 1357.1 689 1355.4 689.5 1357 690 1357.1 690.5 1356.1 691 1359.3 691.5 1357.2 692 1359 692.5 1358 693 1355.9 693.5 1356.3 694 1357.4 694.5 1356.9 695 1357 695.5 1356.6 696 1354.6 696.5 1356.7 697 1354.1 697.5 1357.5 698 1356.1 698.5 1356.2 699 1356.8 699.5 1357.5 700 1355.3 700.5 1354.9 701 1355.8 701.5 1354.5 702 1356 702.5 1359.3 703 1355.9 703.5 1358.1 704 1355.5 704.5 1357.7 705 1356.9 705.5 1357.2 706 1358 706.5 1359.6 707 1357.6 707.5 1357.5 708 1356.1 708.5 1358.1 709 1357 709.5 1358.5 710 1357.3 710.5 1359.7 711 1354.8 711.5 1357 712 1358.6 712.5 1357 713 1356.4 713.5 1357.1 714 1355.7 714.5 1357.6 715 1360.6 715.5 1359 716 1356.1 716.5 1356.4 717 1357 717.5 1358.8 718 1356.5 718.5 1356.6 719 1358.7 719.5 1358.7 720 1357.1 720.5 1356.1 721 1355.6 721.5 1356.7 722 1354.7 722.5 1358.6 723 1356.8 723.5 1358.2 724 1360.1 724.5 1359.2 725 1356.1 725.5 1358.8 726 1359.2 726.5 1356.7 727 1356.4 727.5 1357.5 728 1355.6 728.5 1359.6 729 1354.6 729.5 1356.3 730 1357.4 730.5 1357.4 731 1357.9 731.5 1358.1 732 1357.5 732.5 1359.2 733 1355 733.5 1357.7 734 1356.8 734.5 1357.9 735 1358.1 735.5 1356.6 736 1356.9 736.5 1358.8 737 1358.2 737.5 1356.9 738 1360.4 738.5 1360.8 739 1355.9 739.5 1358.2 740 1361.1 740.5 1358.8 741 1358.1 741.5 1357.6 742 1357.1 742.5 1357.6 743 1357.1 743.5 1358.8 744 1357.3 744.5 1357.3 745 1356.3 745.5 1357.8 746 1356.7 746.5 1357.6 747 1359.2 747.5 1358.3 748 1358.5 748.5 1358.3 749 1357.9 749.5 1357.7 750 1357.5 750.5 1358.9 751 1356.5 751.5 1359.6 752 1357.9 752.5 1356.9 753 1357.2 753.5 1357 754 1358.1 754.5 1356.9 755 1359.3 755.5 1356.8 756 1354.9 756.5 1356.9 757 1355.2 757.5 1357.8 758 1359.2 758.5 1358.7 759 1356.1 759.5 1356.8 760 1360.1 760.5 1358.2 761 1357.8 761.5 1359.1 762 1360.9 762.5 1359.4 763 1357.9 763.5 1358.1 764 1358.5 764.5 1356.8 765 1356.2 765.5 1357.7 766 1356.3 766.5 1357.5 767 1357.6 767.5 1360.5 768 1356.3 768.5 1357.2 769 1357.2 769.5 1357.9 770 1358.6 770.5 1356.6 771 1356.1 771.5 1355 772 1355.9 772.5 1357.7 773 1357 773.5 1355.6 774 1356.3 774.5 1356.8 775 1357.3 775.5 1355.8 776 1356.2 776.5 1354 777 1354.8 777.5 1358.2 778 1353.1 778.5 1355.4 779 1356 779.5 1355 780 1354.2 780.5 1354.9 781 1354.7 781.5 1354.2 782 1351.3 782.5 1353 783 1351.3 783.5 1350.7 784 1350.5 784.5 1349.5 785 1348 785.5 1343.9 786 1343.2 786.5 1340.5 787 1337.2 787.5 1334 788 1328.3 788.5 1324.7 789 1322.5 789.5 1316.6 790 1316.1 790.5 1313.3 791 1313 791.5 1310.5 792 1312.1 792.5 1314.2 793 1316.7 793.5 1318.4 794 1318.3 794.5 1319.3 795 1319 795.5 1320.7 796 1319.4 796.5 1319.6 797 1319.8 797.5 1316.1 798 1312.8 798.5 1312.5 799 1311.1 799.5 1313 800 1315.3 800.5 1315.2 801 1314.8 801.5 1319.7 802 1322.7 802.5 1322.3 803 1322.7 803.5 1322.2 804 1319.7 804.5 1313.7 805 1304.4 805.5 1291.2 806 1275.7 806.5 1260.2 807 1246 807.5 1234.8 807.9 1235 808 1235.7 808.5 1240.6 809 1254.3 809.5 1268.8 810 1285.8 810.5 1305.8 811 1319.2 811.5 1329.9 812 1339.1 812.5 1344.9 813 1347.6 813.5 1346.3 814 1350.1 814.5 1351.4 815 1351.4 815.5 1353.5 816 1355.3 816.5 1353.5 817 1353 817.5 1357.4 818 1354.5 818.5 1353.7 819 1355.8 819.5 1356.3 820 1355 820.5 1357.1 821 1355.6 821.5 1355.1 822 1356.7 822.5 1357.5 823 1355.8 823.5 1357.2 824 1356.7 824.5 1360.6 825 1356.1 825.5 1358.8 826 1357 826.5 1357 827 1358.2 827.5 1358.4 828 1359 828.5 1357.8 829 1356.6 829.5 1356.7 830 1358.1 830.5 1358.3 831 1359.4 831.5 1358.1 832 1359 832.5 1359.6 833 1357.9 833.5 1355.8 834 1356.2 834.5 1355.9 835 1359.8 835.5 1356.7 836 1359.4 836.5 1358.6 837 1360.1 837.5 1359.1 838 1357.7 838.5 1357.6 839 1358 839.5 1358.1 840 1357.2 840.5 1357.9 841 1360 841.5 1355.7 842 1358.3 842.5 1356.8 843 1358.2 843.5 1359.1 844 1357.9 844.5 1359 845 1355.9 845.5 1359.4 846 1357.2 846.5 1358.8 847 1358.2 847.5 1354.6 848 1357 848.5 1358.3 849 1360 849.5 1358.4 850 1358.3 850.5 1356.1 851 1359.8 851.5 1360.3 852 1358 852.5 1357.7 853 1355.8 853.5 1359.1 854 1361.4 854.5 1358.8 855 1359.5 855.5 1358.5 856 1356.5 856.5 1359.5 857 1356.2 857.5 1357.5 858 1358.1 858.5 1358.8 859 1358.1 859.5 1358.1 860 1356.5 860.5 1355.8 861 1357.4 861.5 1356.4 862 1355.5 862.5 1355.4 863 1356.3 863.5 1354.4 864 1354.9 864.5 1354.4 865 1356.5 865.5 1356.6 866 1358.3 866.5 1353.4 867 1353.9 867.5 1355.2 868 1352.7 868.5 1350.9 869 1351.2 869.5 1345.2 870 1339.7 870.5 1334.2 871 1330.4 871.5 1324.4 872 1317.3 872.5 1314.6 872.9 1315 873 1315.8 873.5 1316 874 1321.7 874.5 1327.1 875 1330.1 875.5 1337.8 876 1343.7 876.5 1346.4 877 1347.3 877.5 1351.7 878 1354.5 878.5 1356.5 879 1352.3 879.5 1359 880 1354.5 880.5 1357.5 881 1358.1 881.5 1358 882 1357 882.5 1355.5 883 1358 883.5 1356.3 884 1354.1 884.5 1361.1 885 1358.5 885.5 1360 886 1356.5 886.5 1359.7 887 1359.9 887.5 1359.9 888 1357.9 888.5 1356.4 889 1357.7 889.5 1355.1 890 1355.8 890.5 1358.2 891 1356.8 891.5 1357.9 892 1358 892.5 1360.7 893 1359.9 893.5 1358.2 894 1359.8 894.5 1357.2 895 1357.8 895.5 1359.5 896 1356.7 896.5 1357.9 897 1356.6 897.5 1358.5 898 1360.5 898.5 1357.4 899 1358.7 899.5 1357.2 900 1356.9 900.5 1356.8 901 1360.3 901.5 1361.5 902 1359 902.5 1357.5 903 1359.3 903.5 1358 904 1359.5 904.5 1358.8 905 1358.8 905.5 1359.2 906 1357.7 906.5 1357.9 907 1356.2 907.5 1357.9 908 1356.6 908.5 1358.3 909 1357.2 909.5 1358.6 910 1359.1 910.5 1356.6 911 1357.4 911.5 1357.3 912 1359.5 912.5 1360.7 913 1359.6 913.5 1358.1 914 1360.4 914.5 1356.6 915 1360.5 915.5 1357.7 916 1354.9 916.5 1362 917 1360.6 917.5 1357.2 918 1358.8 918.5 1358.3 919 1358.7 919.5 1356.6 920 1357.7 920.5 1359.1 921 1358.8 921.5 1360.1 922 1358.6 922.5 1361.6 923 1357.6 923.5 1358.9 924 1356.1 924.5 1356.9 925 1360.3 925.5 1357.3 926 1359.2 926.5 1358.5 927 1357.2 927.5 1358.1 928 1357.9 928.5 1357.9 929 1359.5 929.5 1359.4 930 1357.8 930.5 1357.4 931 1358.9 931.5 1358.4 932 1359.9 932.5 1362 933 1359.6 933.5 1358.5 934 1358.3 934.5 1357.4 935 1357.4 935.5 1357.2 936 1358 936.5 1358 937 1359.5 937.5 1358 938 1358.3 938.5 1356.9 939 1360.7 939.5 1359.2 940 1360.8 940.5 1359.5 941 1360.4 941.5 1358.2 942 1359.4 942.5 1362 943 1356.9 943.5 1360 944 1360.7 944.5 1359 945 1359.5 945.5 1360.1 946 1357.6 946.5 1359 947 1357.3 947.5 1357.5 948 1357.6 948.5 1358.2 949 1358.6 949.5 1359 950 1356.5 950.5 1361 951 1359.9 951.5 1359.3 952 1357.9 952.5 1358.2 953 1359.1 953.5 1358.9 954 1356.1 954.5 1359.3 955 1362.2 955.5 1355.8 956 1359.6 956.5 1358.7 957 1358.1 957.5 1360 958 1356.6 958.5 1358.3 959 1360.1 959.5 1357.8 960 1357.5 960.5 1358.2 961 1357.4 961.5 1360 962 1356.7 962.5 1359 963 1356.1 963.5 1358.7 964 1357.6 964.5 1354.2 965 1357.6 965.5 1356.1 966 1356.8 966.5 1359.4 967 1355.7 967.5 1355.7 968 1358.9 968.5 1357 969 1358.8 969.5 1357 970 1355.2 970.5 1356 971 1357.5 971.5 1356.8 972 1355.2 972.5 1354.9 973 1354.1 973.5 1352.6 974 1354.7 974.5 1349.9 975 1344.7 975.5 1339.5 976 1331.4 976.5 1316.9 977 1296.1 977.5 1270.3 978 1242.5 978.5 1210.8 979 1185.4 979.5 1170.4 980 1163 980.5 1169.9 981 1188.8 981.5 1213.8 982 1242.4 982.5 1274 983 1297.1 983.5 1315.5 984 1331.3 984.5 1340.5 985 1344.9 985.5 1349.8 986 1351.6 986.5 1350.5 987 1353.7 987.5 1354.1 988 1354.3 988.5 1353 989 1355 989.5 1355.7 990 1356.1 990.5 1354.6 991 1357.1 991.5 1354.7 992 1356.1 992.5 1358.2 993 1355.6 993.5 1355.9 994 1358.1 994.5 1356.2 995 1356.3 995.5 1357 996 1358 996.5 1353.7 997 1355.5 997.5 1355.2 998 1355 998.5 1355.2 999 1355.1 999.5 1356.4 1000 1354.7 1000.5 1355.8 1001 1355.9 1001.5 1354.1 1002 1354.8 1002.5 1356.3 1003 1353.8 1003.5 1351.4 1004 1350.5 1004.5 1346.9 1005 1345 1005.5 1341.1 1006 1332.9 1006.5 1326.9 1007 1321.5 1007.5 1312.8 1008 1309 1008.5 1305.2 1008.6 1306.5 1009 1306.8 1009.5 1314.1 1010 1316.7 1010.5 1323.6 1011 1330.6 1011.5 1337.5 1012 1343.8 1012.5 1347.2 1013 1352.4 1013.5 1352 1014 1354.9 1014.5 1354.2 1015 1355.3 1015.5 1353.1 1016 1355.2 1016.5 1355.5 1017 1355.5 1017.5 1353.3 1018 1357.4 1018.5 1355.9 1019 1355.9 1019.5 1356.3 1020 1356.4 1020.5 1357.3 1021 1355.2 1021.5 1355.7 1022 1357.3 1022.5 1357.2 1023 1356.5 1023.5 1356.3 1024 1356 1024.5 1357 1025 1358.6 1025.5 1355.6 1026 1359 1026.5 1358.1 1027 1356.3 1027.5 1357.9 1028 1354.9 1028.5 1354.5 1029 1355 1029.5 1356.1 1030 1356.1 1030.5 1355.7 1031 1356.4 1031.5 1353.3 1032 1356.6 1032.5 1353.9 1033 1354.6 1033.5 1354.7 1034 1353.4 1034.5 1352.7 1035 1352.7 1035.5 1353.4 1036 1353.4 1036.5 1352.3 1037 1348.6 1037.5 1346.3 1038 1342.4 1038.5 1338.7 1039 1328.1 1039.5 1323.1 1040 1310 1040.5 1298.3 1041 1289.5 1041.5 1282.8 1042 1278.5 1042.1 1278 1042.5 1279.7 1043 1287.1 1043.5 1296.5 1044 1305.9 1044.5 1319 1045 1327.3 1045.5 1335.4 1046 1340.2 1046.5 1345.4 1047 1349.7 1047.5 1348.9 1048 1352.7 1048.5 1353.2 1049 1353.7 1049.5 1351 1050 1354.1 1050.5 1355.3 1051 1353.7 1051.5 1355 1052 1352 1052.5 1356 1053 1354.4 1053.5 1356.4 1054 1352.9 1054.5 1356.2 1055 1354.9 1055.5 1356.2 1056 1353.9 1056.5 1354.1 1057 1357.6 1057.5 1353.4 1058 1353.2 1058.5 1353.4 1059 1351.8 1059.5 1353.9 1060 1353.3 1060.5 1348.3 1061 1344.2 1061.5 1344 1062 1338.7 1062.5 1331.8 1063 1324.8 1063.5 1314.7 1064 1309 1064.5 1302.8 1065 1303 1065.5 1305.9 1066 1308.4 1066.5 1318.8 1067 1323.5 1067.5 1330.1 1068 1338.5 1068.5 1345 1069 1347.3 1069.5 1347.9 1070 1351.9 1070.5 1354.5 1071 1352.9 1071.5 1353.2 1072 1356 1072.5 1355.2 1073 1353.9 1073.5 1355.1 1074 1354.8 1074.5 1356.4 1075 1356.3 1075.5 1357.8 1076 1357.3 1076.5 1354.5 1077 1357.2 1077.5 1357.9 1078 1357.4 1078.5 1358.2 1079 1356.2 1079.5 1355.7 1080 1358.2 1080.5 1355.6 1081 1354.2 1081.5 1358.4 1082 1356.1 1082.5 1356.7 1083 1355.3 1083.5 1355.4 1084 1355.6 1084.5 1356.6 1085 1357.5 1085.5 1354 1086 1358 1086.5 1355.4 1087 1355.6 1087.5 1357.8 1088 1356.8 1088.5 1354.8 1089 1359.1 1089.5 1355.6 1090 1356.9 1090.5 1356.8 1091 1358.2 1091.5 1355.6 1092 1357.4 1092.5 1354.9 1093 1357.1 1093.5 1354.4 1094 1354.6 1094.5 1357.2 1095 1354.8 1095.5 1354 1096 1356.2 1096.5 1353.2 1097 1350.9 1097.5 1352.2 1098 1348.8 1098.5 1350.8 1099 1349.8 1099.5 1346.3 1100 1345 1100.5 1344.7 1101 1343 1101.5 1340.2 1102 1340.7 1102.5 1335.7 1103 1336.2 1103.5 1334.7 1104 1333.3 1104.5 1332.7 1105 1329.4 1105.5 1330.5 1106 1328.5 1106.5 1327.1 1107 1325.6 1107.5 1325.5 1107.9 1327 1108 1325.8 1108.5 1327.3 1109 1329 1109.5 1329.6 1110 1331.2 1110.5 1329.9 1111 1330.1 1111.5 1334.2 1112 1334.7 1112.5 1337.3 1113 1337.4 1113.5 1340.6 1114 1341.7 1114.5 1343.1 1115 1344.3 1115.5 1345.5 1116 1346.7 1116.5 1347.9 1117 1350 1117.5 1349.1 1118 1353 1118.5 1351.5 1119 1353.6 1119.5 1352.9 1120 1353.3 1120.5 1356.8 1121 1354.2 1121.5 1353.3 1122 1354.4 1122.5 1355.2 1123 1358.7 1123.5 1356.3 1124 1357.5 1124.5 1355.1 1125 1357 1125.5 1357.5 1126 1359.1 1126.5 1356 1127 1357.7 1127.5 1357.4 1128 1355.7 1128.5 1357.1 1129 1356.8 1129.5 1354.2 1130 1358 1130.5 1358 1131 1356.8 1131.5 1355.6 1132 1359.3 1132.5 1357.7 1133 1358.7 1133.5 1359.3 1134 1356.8 1134.5 1358.5 1135 1357.2 1135.5 1357.4 1136 1357.4 1136.5 1357.5 1137 1358.9 1137.5 1357.7 1138 1357.3 1138.5 1357.1 1139 1357.9 1139.5 1356.3 1140 1356.8 1140.5 1357.4 1141 1356.7 1141.5 1357.2 1142 1356.6 1142.5 1359.9 1143 1359 1143.5 1357.8 1144 1357.1 1144.5 1360 1145 1357.5 1145.5 1356.9 1146 1357.3 1146.5 1357.2 1147 1358.5 1147.5 1356.6 1148 1359.2 1148.5 1355.1 1149 1357 1149.5 1354.6 1150 1358 1150.5 1354.9 1151 1354.9 1151.5 1355.7 1152 1355.4 1152.5 1351.5 1153 1351.1 1153.5 1347.7 1154 1346.8 1154.5 1342.4 1155 1336.7 1155.5 1329.7 1156 1322.8 1156.5 1315.1 1157 1310.6 1157.5 1308 1157.9 1305 1158 1304.9 1158.5 1306.7 1159 1312.8 1159.5 1317.7 1160 1326.1 1160.5 1332 1161 1340.4 1161.5 1344.5 1162 1347.8 1162.5 1351 1163 1351.9 1163.5 1351.4 1164 1355 1164.5 1355.1 1165 1355 1165.5 1356.8 1166 1357.4 1166.5 1354.7 1167 1355.3 1167.5 1358.5 1168 1358.5 1168.5 1355.8 1169 1355.4 1169.5 1356.2 1170 1356.5 1170.5 1355.2 1171 1357.4 1171.5 1355.7 1172 1355.9 1172.5 1358.7 1173 1356.7 1173.5 1357.5 1174 1358.5 1174.5 1358.8 1175 1357.3 1175.5 1357.8 1176 1356.7 1176.5 1360.1 1177 1358.7 1177.5 1356.4 1178 1357.9 1178.5 1358.9 1179 1358.6 1179.5 1360.3 1180 1359.8 1180.5 1357.3 1181 1357.9 1181.5 1356.4 1182 1358.4 1182.5 1358.2 1183 1361.6 1183.5 1358.2 1184 1355.3 1184.5 1357.2 1185 1358.2 1185.5 1356.5 1186 1357 1186.5 1357.6 1187 1358.6 1187.5 1357.9 1188 1357 1188.5 1359.1 1189 1357.4 1189.5 1357.5 1190 1356.3 1190.5 1357.1 1191 1359 1191.5 1356 1192 1358 1192.5 1359.1 1193 1357.6 1193.5 1358.4 1194 1356.7 1194.5 1359.8 1195 1359.6 1195.5 1358.4 1196 1355.8 1196.5 1356.8 1197 1359.4 1197.5 1360.3 1198 1358.5 1198.5 1359.7 1199 1357.3 1199.5 1357.8 1200 1358.1 1200.5 1358.6 1201 1356.1 1201.5 1359.3 1202 1359.8 1202.5 1356.5 1203 1356.3 1203.5 1358.5 1204 1357.1 1204.5 1354.9 1205 1359 1205.5 1358.2 1206 1357.3 1206.5 1360.7 1207 1358.1 1207.5 1356.9 1208 1358 1208.5 1356.5 1209 1356.8 1209.5 1358.3 1210 1357 1210.5 1357.2 1211 1359.9 1211.5 1358.8 1212 1358.7 1212.5 1358.3 1213 1358.2 1213.5 1359.4 1214 1357.4 1214.5 1359.8 1215 1356.1 1215.5 1356.9 1216 1355.4 1216.5 1356.7 1217 1357.7 1217.5 1358.8 1218 1356 1218.5 1356.7 1219 1356.1 1219.5 1355.5 1220 1354.7 1220.5 1356.2 1221 1353.6 1221.5 1355.8 1222 1355.4 1222.5 1354.2 1223 1353.3 1223.5 1352.4 1224 1356 1224.5 1351 1225 1353.5 1225.5 1350.3 1226 1346 1226.5 1340.3 1227 1336.1 1227.5 1327.2 1228 1311 1228.5 1296.6 1229 1282.1 1229.5 1266 1230 1256.3 1230.5 1246.8 1230.7 1247 1231 1246.6 1231.5 1258.4 1232 1267.3 1232.5 1281 1233 1299.8 1233.5 1314.5 1234 1329.3 1234.5 1335.5 1235 1342.4 1235.5 1347.5 1236 1351.5 1236.5 1351 1237 1353.4 1237.5 1353.3 1238 1352.6 1238.5 1353.3 1239 1353.3 1239.5 1352 1240 1354.5 1240.5 1350.8 1241 1353.6 1241.5 1352.8 1242 1350.8 1242.5 1349.2 1243 1349.1 1243.5 1349.3 1244 1349.1 1244.5 1347.9 1245 1348.5 1245.5 1346.3 1245.7 1347 1246 1345 1246.5 1348.3 1247 1347.9 1247.5 1347.7 1248 1350.3 1248.5 1350.3 1249 1346.4 1249.5 1350.6 1250 1349.1 1250.5 1352.7 1251 1354.6 1251.5 1350.6 1252 1351.2 1252.5 1350.5 1253 1350.9 1253.5 1350.8 1254 1351.3 1254.5 1348 1255 1351.1 1255.5 1347.8 1255.7 1349 1256 1350.6 1256.5 1350.3 1257 1348.6 1257.5 1349.5 1258 1350.5 1258.5 1351.7 1259 1354 1259.5 1351.6 1260 1354.6 1260.5 1355.4 1261 1355.9 1261.5 1356.3 1262 1358.1 1262.5 1357.1 1263 1357.8 1263.5 1357.7 1264 1359.4 1264.5 1354.8 1265 1359 1265.5 1357.1 1266 1357.2 1266.5 1356.3 1267 1355.2 1267.5 1357.2 1268 1356.8 1268.5 1358.4 1269 1355.9 1269.5 1359.7 1270 1358.2 1270.5 1357.6 1271 1357 1271.5 1356.9 1272 1356.5 1272.5 1357.3 1273 1358 1273.5 1357.8 1274 1356.2 1274.5 1357.7 1275 1356.9 1275.5 1358.3 1276 1360.5 1276.5 1358.9 1277 1357.7 1277.5 1356 1278 1356.3 1278.5 1355.9 1279 1359.1 1279.5 1357.1 1280 1358.2 1280.5 1357.3 1281 1358.3 1281.5 1360 1282 1357.3 1282.5 1357.7 1283 1357.1 1283.5 1359.3 1284 1356.8 1284.5 1356.7 1285 1356.4 1285.5 1356.4 1286 1358.8 1286.5 1361.5 1287 1356.9 1287.5 1359.4 1288 1358.5 1288.5 1356.8 1289 1357.8 1289.5 1357.9 1290 1357.3 1290.5 1360.5 1291 1355.4 1291.5 1358.2 1292 1358 1292.5 1356.6 1293 1357.4 1293.5 1358.1 1294 1357 1294.5 1357.2 1295 1357.4 1295.5 1353.7 1296 1358.1 1296.5 1358.9 1297 1357.1 1297.5 1356.9 1298 1353.6 1298.5 1355.1 1299 1354 1299.5 1354.2 1300 1356 1300.5 1353.7 1301 1354.6 1301.5 1352.3 1302 1354.6 1302.5 1354.9 1303 1353.8 1303.5 1353.8 1304 1357.2 1304.5 1353.2 1305 1353.4 1305.5 1353.7 1306 1356.3 1306.5 1357.5 1307 1355.2 1307.5 1353.8 1308 1354.2 1308.5 1356.2 1309 1353.6 1309.5 1356.7 1310 1356.6 1310.5 1354.9 1311 1355.6 1311.5 1355.7 1312 1356.8 1312.5 1353.4 1313 1356.3 1313.5 1354.3 1314 1353.8 1314.5 1354.9 1315 1354.5 1315.5 1353.5 1316 1352.7 1316.5 1353.6 1317 1356.7 1317.5 1357.3 1318 1355.6 1318.5 1356.3 1319 1354.1 1319.5 1354.7 1320 1355.1 1320.5 1353.4 1321 1353.5 1321.5 1354.9 1322 1354.4 1322.5 1353.4 1323 1355.3 1323.5 1354.4 1324 1356.1 1324.5 1354.8 1325 1354.4 1325.5 1354.9 1326 1354.5 1326.5 1353.9 1327 1354.2 1327.5 1355.7 1328 1355.6 1328.5 1356.4 1329 1352.6 1329.5 1354.2 1330 1354.2 1330.5 1355 1331 1354.2 1331.5 1354.1 1332 1355.8 1332.5 1355 1333 1353.2 1333.5 1356.5 1334 1356 1334.5 1354 1335 1355.8 1335.5 1353.8 1336 1356.2 1336.5 1354.4 1337 1353.7 1337.5 1354.2 1338 1353.7 1338.5 1355 1339 1354.9 1339.5 1354.8 1340 1354 1340.5 1350 1341 1354.9 1341.5 1352.3 1342 1355.1 1342.5 1356.3 1343 1355.2 1343.5 1354.4 1344 1354.7 1344.5 1354.8 1345 1354.2 1345.5 1354.2 1346 1353.8 1346.5 1356.6 1347 1355 1347.5 1356.3 1348 1354.8 1348.5 1355.2 1349 1354.9 1349.5 1355.8 1350 1356.3 1350.5 1355.5 1351 1354.4 1351.5 1354.2 1352 1357.4 1352.5 1354.9 1353 1354.9 1353.5 1357.2 1354 1356.8 1354.5 1356.1 1355 1354.9 1355.5 1358.5 1356 1355.9 1356.5 1356.2 1357 1355.2 1357.5 1353.6 1358 1353.8 1358.5 1356 1359 1356 1359.5 1355.2 1360 1354 1360.5 1353.7 1361 1355.1 1361.5 1353.7 1362 1356.7 1362.5 1357.1 1363 1359.2 1363.5 1356.7 1364 1354.8 1364.5 1354.4 1365 1351 1365.5 1354.8 1366 1355.3 1366.5 1356.7 1367 1356.3 1367.5 1356.2 1368 1355.7 1368.5 1356.2 1369 1357.2 1369.5 1353.8 1370 1354.5 1370.5 1353.2 1371 1357 1371.5 1356.4 1372 1355.5 1372.5 1352.7 1373 1354.1 1373.5 1353.1 1374 1352.9 1374.5 1351.8 1375 1351.7 1375.5 1349.3 1376 1349.5 1376.5 1347 1377 1344.3 1377.5 1342.4 1378 1339.7 1378.5 1339 1379 1335.3 1379.5 1334 1380 1331.3 1380.5 1328.5 1381 1330.9 1381.4 1329.5 1381.5 1330.4 1382 1330.5 1382.5 1328.9 1383 1331.4 1383.5 1333.9 1384 1335.8 1384.5 1337.6 1385 1342.5 1385.5 1343.5 1386 1346.5 1386.5 1347.3 1387 1349.9 1387.5 1349.9 1388 1352 1388.5 1353.8 1389 1353.8 1389.5 1353.8 1390 1353.5 1390.5 1355.5 1391 1356 1391.5 1355.4 1392 1355 1392.5 1356.8 1393 1359.5 1393.5 1356 1394 1356.9 1394.5 1357 1395 1353.3 1395.5 1356.9 1396 1355.8 1396.5 1358.6 1397 1356.5 1397.5 1355.9 1398 1356.6 1398.5 1357.2 1399 1356.2 1399.5 1356.9 1400 1355.1 1400.5 1356.5 1401 1357.7 1401.5 1359.1 1402 1357.2 1402.5 1356.4 1403 1357.3 1403.5 1356.7 1404 1357.1 1404.5 1355.8 1405 1353.7 1405.5 1353.6 1406 1353 1406.5 1352.6 1407 1352 1407.5 1350.3 1408 1348.4 1408.5 1350.1 1408.6 1351 1409 1351.1 1409.5 1351.3 1410 1349.4 1410.5 1352.9 1411 1353.7 1411.5 1353.2 1412 1355.8 1412.5 1356.7 1413 1353.2 1413.5 1356.6 1414 1356.2 1414.5 1356.5 1415 1357.5 1415.5 1355.6 1416 1355.9 1416.5 1355.8 1417 1356 1417.5 1356.9 1418 1355.2 1418.5 1355.8 1419 1357.9 1419.5 1357.1 1420 1357.7 1420.5 1354.7 1421 1356.1 1421.5 1356.4 1422 1357.2 1422.5 1356.3 1423 1358.3 1423.5 1356.9 1424 1357 1424.5 1356.9 1425 1357.7 1425.5 1356.1 1426 1358.1 1426.5 1357.1 1427 1356.5 1427.5 1356.2 1428 1356.6 1428.5 1357 1429 1356.6 1429.5 1355.6 1430 1355.9 1430.5 1354.5 1431 1355.5 1431.5 1353.3 1432 1350.1 1432.5 1353.9 1433 1351.6 1433.5 1349.2 1434 1349.6 1434.5 1347.9 1435 1350.9 1435.5 1347.9 1436 1344.2 1436.5 1346 1437 1343.9 1437.5 1345.9 1438 1341.2 1438.5 1338.8 1439 1341 1439.5 1339.8 1440 1339.1 1440.5 1336.3 1441 1339.3 1441.4 1338.5 1441.5 1336 1442 1339.8 1442.5 1337.5 1443 1341.4 1443.5 1339 1444 1338.4 1444.5 1340.4 1445 1339.9 1445.5 1338.8 1446 1340.8 1446.5 1339.6 1447 1338.2 1447.5 1343.5 1448 1340.7 1448.5 1340.6 1449 1342 1449.5 1339.8 1450 1340.3 1450.5 1341.6 1451 1341.7 1451.5 1342.7 1452 1344.3 1452.5 1342.6 1453 1343.5 1453.5 1344.7 1454 1342.9 1454.5 1345.1 1455 1344.1 1455.5 1347.3 1456 1347.1 1456.5 1347.2 1457 1346.1 1457.5 1348.6 1458 1348.1 1458.5 1350.7 1459 1350.3 1459.5 1350 1460 1352.9 1460.5 1353.2 1461 1352 1461.5 1354.8 1462 1353.3 1462.5 1353.7 1463 1354.6 1463.5 1353.8 1464 1354.5 1464.5 1355.1 1465 1357.5 1465.5 1357.7 1466 1355.5 1466.5 1358.1 1467 1356 1467.5 1356.6 1468 1357.3 1468.5 1356.6 1469 1359.4 1469.5 1356.6 1470 1354.7 1470.5 1357.9 1471 1355.6 1471.5 1355.7 1472 1352.1 1472.5 1357.2 1473 1356.8 1473.5 1356.6 1474 1356.7 1474.5 1357.4 1475 1354.9 1475.5 1355.8 1476 1353.2 1476.5 1353.1 1477 1354.3 1477.5 1352.5 1478 1349.1 1478.5 1349.7 1479 1347.1 1479.5 1343.9 1480 1342.7 1480.5 1338.1 1481 1332.7 1481.5 1328.8 1482 1327.7 1482.5 1318.3 1483 1315.5 1483.5 1311.1 1484 1306.8 1484.5 1300.8 1485 1299.5 1485.5 1298.9 1485.7 1298.6 1486 1298 1486.5 1298.9 1487 1304.4 1487.5 1308.3 1488 1311.9 1488.5 1315.6 1489 1322 1489.5 1326.7 1490 1332.5 1490.5 1334.1 1491 1339.8 1491.5 1342.8 1492 1344.4 1492.5 1348.4 1493 1350 1493.5 1350.9 1494 1353.1 1494.5 1351.6 1495 1354.1 1495.5 1355.3 1496 1355.6 1496.5 1356.9 1497 1354.3 1497.5 1354.1 1498 1356.6 1498.5 1357.1 1499 1359.4 1499.5 1357.6 1500 1355.8 1500.5 1358.1 1501 1356 1501.5 1355.3 1502 1360.7 1502.5 1357.8 1503 1358.4 1503.5 1358.2 1504 1359.9 1504.5 1358 1505 1359.2 1505.5 1356.3 1506 1355.9 1506.5 1359.6 1507 1359.6 1507.5 1358.4 1508 1358 1508.5 1357.9 1509 1356.7 1509.5 1359.5 1510 1358.3 1510.5 1357.9 1511 1357.5 1511.5 1358.1 1512 1357 1512.5 1356.9 1513 1353.8 1513.5 1355.4 1514 1356.9 1514.5 1352.7 1515 1352.5 1515.5 1353.1 1516 1352.5 1516.5 1351.5 1517 1348.2 1517.5 1350.7 1517.9 1350 1518 1348.9 1518.5 1350.9 1519 1350.1 1519.5 1352.1 1520 1355.8 1520.5 1353.4 1521 1354.1 1521.5 1352.7 1522 1353.8 1522.5 1353.9 1523 1355.2 1523.5 1355.1 1524 1356.1 1524.5 1357 1525 1356.3 1525.5 1356 1526 1356.3 1526.5 1358.8 1527 1358.4 1527.5 1359.8 1528 1359.9 1528.5 1358.1 1529 1359.5 1529.5 1356.8 1530 1361.7 1530.5 1360.3 1531 1358.5 1531.5 1357.3 1532 1359.3 1532.5 1356.4 1533 1357.8 1533.5 1359.8 1534 1359 1534.5 1358.3 1535 1360.1 1535.5 1357.6 1536 1359.3 1536.5 1358.3 1537 1357.8 1537.5 1359.6 1538 1357.7 1538.5 1361.4 1539 1358.2 1539.5 1361.6 1540 1357.6 1540.5 1359.8 1541 1357.4 1541.5 1357.2 1542 1359.2 1542.5 1359.8 1543 1357.3 1543.5 1360.5 1544 1357.9 1544.5 1359.1 1545 1359.4 1545.5 1359.7 1546 1356.5 1546.5 1361 1547 1359.6 1547.5 1358.3 1548 1357.5 1548.5 1356.5 1549 1356.9 1549.5 1359.4 1550 1358.2 1550.5 1357.1 1551 1357.8 1551.5 1360.5 1552 1358 1552.5 1357.6 1553 1360 1553.5 1358.7 1554 1358 1554.5 1357 1555 1355.5 1555.5 1355.7 1556 1356.2 1556.5 1356.1 1557 1356.2 1557.5 1355.7 1558 1354.2 1558.5 1353 1559 1350 1559.5 1346.8 1560 1347 1560.5 1344.4 1561 1342.6 1561.5 1340.9 1562 1337.5 1562.5 1335.7 1563 1335.4 1563.5 1334.5 1564 1332.9 1564.3 1333.6 1564.5 1333.4 1565 1332.9 1565.5 1335.3 1566 1339.3 1566.5 1337.8 1567 1342.4 1567.5 1344.9 1568 1347.2 1568.5 1346.3 1569 1352 1569.5 1351.2 1570 1352.2 1570.5 1353.5 1571 1355.6 1571.5 1355.7 1572 1356.1 1572.5 1358.5 1573 1356.3 1573.5 1356.1 1574 1358.8 1574.5 1358.8 1575 1359.5 1575.5 1356.8 1576 1359.7 1576.5 1359 1577 1360.7 1577.5 1356.8 1578 1358.8 1578.5 1358.2 1579 1356.5 1579.5 1357.6 1580 1360.1 1580.5 1358 1581 1357.7 1581.5 1359.8 1582 1359.9 1582.5 1359.9 1583 1357.6 1583.5 1358.6 1584 1360 1584.5 1357.8 1585 1357.7 1585.5 1359.7 1586 1360.7 1586.5 1357.2 1587 1355.3 1587.5 1356.7 1588 1357.3 1588.5 1358.4 1589 1359.4 1589.5 1358.4 1590 1357.6 1590.5 1358.7 1591 1357.3 1591.5 1358.4 1592 1357.6 1592.5 1361.9 1593 1359.5 1593.5 1357.3 1594 1357.1 1594.5 1357.8 1595 1356.2 1595.5 1357.3 1596 1357.3 1596.5 1359.3 1597 1357.6 1597.5 1357.1 1598 1356.3 1598.5 1356.5 1599 1357.9 1599.5 1357.6 1600 1359.3 1600.5 1356.9 1601 1359.1 1601.5 1357.9 1602 1357.5 1602.5 1354.8 1603 1355.6 1603.5 1358 1604 1358.7 1604.5 1356.8 1605 1357.2 1605.5 1355.2 1606 1354.7 1606.5 1353.5 1607 1354.8 1607.5 1352.9 1608 1350.9 1608.5 1349.3 1609 1348.9 1609.5 1346.9 1610 1343.7 1610.5 1345.3 1611 1341.9 1611.5 1340.2 1612 1341.2 1612.5 1340 1612.9 1338.5 1613 1339.2 1613.5 1337.4 1614 1338.7 1614.5 1337.7 1615 1343.7 1615.5 1341.2 1616 1346.2 1616.5 1346 1617 1347.4 1617.5 1349.9 1618 1351.9 1618.5 1353.5 1619 1356 1619.5 1355 1620 1356.3 1620.5 1354.9 1621 1357 1621.5 1356.6 1622 1356 1622.5 1356.6 1623 1356.8 1623.5 1357.2 1624 1357.6 1624.5 1356.4 1625 1356.2 1625.5 1358.1 1626 1354.9 1626.5 1356.3 1627 1359.1 1627.5 1353.6 1628 1356.1 1628.5 1357.9 1629 1354.8 1629.5 1360.2 1630 1353.3 1630.5 1358.3 1631 1358.2 1631.5 1357.1 1632 1355.2 1632.5 1355.4 1633 1353.1 1633.5 1354.5 1634 1350.9 1634.5 1350.7 1635 1350.8 1635.5 1346.3 1636 1345.4 1636.5 1344 1637 1339.9 1637.5 1341.1 1638 1338.1 1638.5 1334 1639 1334.6 1639.5 1332.8 1640 1333.5 1640.5 1333.9 1641 1333.7 1641.5 1337.2 1642 1336.7 1642.5 1340.9 1643 1341.7 1643.5 1345 1644 1345.3 1644.5 1347.2 1645 1348.2 1645.5 1351.9 1646 1353.7 1646.5 1356.3 1647 1356.1 1647.5 1355.5 1648 1355.4 1648.5 1356.7 1649 1356.4 1649.5 1358.7 1650 1358.2 1650.5 1356 1651 1356.4 1651.5 1359.2 1652 1357.9 1652.5 1357.2 1653 1359.2 1653.5 1357.2 1654 1357.4 1654.5 1357.2 1655 1355.3 1655.5 1359 1656 1356.3 1656.5 1357.2 1657 1357 1657.5 1359 1658 1358 1658.5 1358.1 1659 1355.9 1659.5 1358 1660 1356.2 1660.5 1358.6 1661 1358.6 1661.5 1358.2 1662 1360.9 1662.5 1358.9 1663 1359 1663.5 1358.4 1664 1358 1664.5 1359.5 1665 1359.7 1665.5 1356.6 1666 1359.6 1666.5 1358.9 1667 1359.5 1667.5 1358.9 1668 1356.7 1668.5 1356.8 1669 1360.7 1669.5 1358.6 1670 1356.4 1670.5 1358.7 1671 1357.8 1671.5 1355.9 1672 1355.3 1672.5 1356.2 1673 1358.6 1673.5 1358.2 1674 1357.9 1674.5 1358.6 1675 1359 1675.5 1355.5 1676 1357.8 1676.5 1357.1 1677 1356.6 1677.5 1357.5 1678 1358 1678.5 1357.8 1679 1356.3 1679.5 1357.5 1680 1360.7 1680.5 1356.7 1681 1355.9 1681.5 1358.4 1682 1358.8 1682.5 1358.6 1683 1356.5 1683.5 1359.2 1684 1356.8 1684.5 1356.3 1685 1356.9 1685.5 1357.5 1686 1358.5 1686.5 1358.2 1687 1357.3 1687.5 1358.4 1688 1357.1 1688.5 1358 1689 1354.7 1689.5 1354.3 1690 1357.1 1690.5 1353.9 1691 1355 1691.5 1354.9 1692 1354 1692.5 1353.6 1693 1355.5 1693.5 1350 1694 1353.9 1694.5 1355.2 1695 1351.8 1695.5 1351.2 1696 1351.7 1696.5 1352.7 1697 1348.3 1697.5 1349.6 1698 1348.9 1698.5 1349.6 1699 1348.9 1699.5 1349.4 1700 1348.5 1700.5 1348.6 1701 1347.8 1701.5 1348 1702 1348.9 1702.5 1349.3 1703 1348.3 1703.5 1352.3 1704 1350.5 1704.5 1349.4 1705 1353.1 1705.5 1351.2 1706 1353.4 1706.5 1353.2 1707 1354 1707.5 1354.3 1708 1353.8 1708.5 1355 1709 1357.9 1709.5 1352.7 1710 1356 1710.5 1356.8 1711 1355.1 1711.5 1354.9 1712 1359.7 1712.5 1356.5 1713 1359.9 1713.5 1358 1714 1357.5 1714.5 1358.1 1715 1358.4 1715.5 1359.1 1716 1358.2 1716.5 1357.9 1717 1358 1717.5 1359.5 1718 1358.9 1718.5 1356.5 1719 1357 1719.5 1358.3 1720 1357.1 1720.5 1357.4 1721 1356.6 1721.5 1357.5 1722 1358.4 1722.5 1359.2 1723 1357.9 1723.5 1360.6 1724 1357.8 1724.5 1362 1725 1359.1 1725.5 1358.5 1726 1357.1 1726.5 1354.1 1727 1357.6 1727.5 1358 1728 1360.2 1728.5 1355.9 1729 1360.1 1729.5 1357.3 1730 1358.5 1730.5 1354.2 1731 1357.7 1731.5 1357 1732 1358.2 1732.5 1357.4 1733 1355.7 1733.5 1358.3 1734 1357.9 1734.5 1357.6 1735 1358 1735.5 1357.9 1736 1356.2 1736.5 1354.1 1737 1353.6 1737.5 1356.6 1738 1355.1 1738.5 1353.4 1739 1351.6 1739.5 1350.9 1740 1349.3 1740.5 1347.1 1741 1344.7 1741.5 1346.3 1742 1341.6 1742.5 1338.4 1743 1335.5 1743.5 1334.5 1744 1335.1 1744.5 1334.3 1745 1333 1745.5 1333.4 1746 1333.7 1746.5 1334 1747 1338.9 1747.5 1339.6 1748 1344.5 1748.5 1342.4 1749 1345.3 1749.5 1348.6 1750 1348.9 1750.5 1348.9 1751 1350.8 1751.5 1353.3 1752 1354.4 1752.5 1354.6 1753 1356.5 1753.5 1357 1754 1356.4 1754.5 1356.3 1755 1356.1 1755.5 1357.3 1756 1357.9 1756.5 1356.9 1757 1357.5 1757.5 1356.5 1758 1355.1 1758.5 1355.7 1759 1358 1759.5 1357.6 1760 1359.1 1760.5 1357.1 1761 1358.1 1761.5 1358.7 1762 1358.2 1762.5 1356 1763 1356.5 1763.5 1356.8 1764 1355.2 1764.5 1357 1765 1357.5 1765.5 1355.4 1766 1358.3 1766.5 1355.1 1767 1355 1767.5 1354.6 1768 1353.7 1768.5 1354.8 1769 1353.9 1769.5 1355.7 1770 1353.9 1770.5 1353.4 1771 1352.1 1771.5 1350.1 1772 1351.5 1772.5 1350.1 1773 1352.1 1773.5 1350.6 1774 1352.5 1774.5 1351.2 1775 1351.2 1775.5 1350.3 1775.7 1350 1776 1350.9 1776.5 1351.3 1777 1349.3 1777.5 1351 1778 1354 1778.5 1350.8 1779 1350.8 1779.5 1350.6 1780 1350 1780.5 1353.8 1781 1352.7 1781.5 1353.4 1782 1355.8 1782.5 1357 1783 1352.9 1783.5 1355.8 1784 1355.5 1784.5 1355.5 1785 1355.8 1785.5 1355.4 1786 1357.7 1786.5 1356.6 1787 1356.3 1787.5 1357.6 1788 1357.2 1788.5 1356.7 1789 1356.5 1789.5 1358.4 1790 1356.7 1790.5 1355.8 1791 1354.7 1791.5 1355.3 1792 1354.2 1792.5 1355.4 1793 1355.4 1793.5 1352.1 1794 1354.4 1794.5 1354.8 1795 1353.7 1795.5 1351.8 1796 1354.1 1796.5 1350.9 1797 1349.5 1797.5 1349 1798 1349.6 1798.5 1350.1 1799 1349.5 1799.5 1347.4 1800 1344.7 1800.5 1344.5 1801 1343.3 1801.5 1343.5 1802 1340.6 1802.5 1342.4 1803 1342.4 1803.5 1340.9 1804 1341.2 1804.5 1339 1805 1340 1805.5 1339 1806 1341.2 1806.5 1341 1807 1339 1807.5 1341.1 1808 1339 1808.5 1341.1 1809 1339.5 1809.5 1337.8 1810 1338.9 1810.5 1336.2 1811 1335.3 1811.5 1334 1812 1335.6 1812.5 1334.7 1813 1334.4 1813.5 1334.1 1814 1335 1814.5 1335.2 1815 1335.9 1815.5 1339.9 1816 1341.7 1816.5 1342.1 1817 1341.2 1817.5 1344.5 1818 1347.8 1818.5 1348.6 1819 1352 1819.5 1349.4 1820 1353.1 1820.5 1352.3 1821 1355.6 1821.5 1354.3 1822 1356.2 1822.5 1354.4 1823 1353.7 1823.5 1354.3 1824 1355.1 1824.5 1354.7 1825 1357.7 1825.5 1357.9 1826 1356.6 1826.5 1354.9 1827 1356.2 1827.5 1355.4 1828 1358.2 1828.5 1356.7 1829 1357 1829.5 1355.8 1830 1353.7 1830.5 1355.2 1831 1354.7 1831.5 1356.6 1832 1356.1 1832.5 1354.9 1833 1355.3 1833.5 1357.7 1834 1354.2 1834.5 1354.1 1835 1354.8 1835.5 1353.9 1836 1353.9 1836.5 1354.7 1837 1355.6 1837.5 1349.9 1838 1350.3 1838.5 1347 1839 1340.6 1839.5 1329.9 1840 1312.5 1840.5 1288.3 1841 1250.4 1841.5 1205.1 1842 1152.5 1842.5 1098.8 1843 1051 1843.5 1019.9 1844 1007 1844.5 1018.9 1845 1051.2 1845.5 1097.4 1846 1151.5 1846.5 1204 1847 1251.4 1847.5 1286.2 1848 1311.7 1848.5 1330.6 1849 1341.6 1849.5 1344.8 1850 1352.8 1850.5 1352.6 1851 1353.5 1851.5 1355.7 1852 1354.9 1852.5 1354.4 1853 1358.3 1853.5 1354.3 1854 1355.8 1854.5 1357.2 1855 1354.9 1855.5 1356.3 1856 1357.1 1856.5 1359.8 1857 1355.7 1857.5 1356.9 1858 1357.9 1858.5 1357.2 1859 1355.6 1859.5 1357.8 1860 1357.4 1860.5 1357.9 1861 1358.9 1861.5 1358.8 1862 1358 1862.5 1357.9 1863 1356.1 1863.5 1357.4 1864 1357.9 1864.5 1357.2 1865 1357.8 1865.5 1356.7 1866 1359.7 1866.5 1360.6 1867 1357.3 1867.5 1358.3 1868 1357.5 1868.5 1359.5 1869 1358.4 1869.5 1358 1870 1357.6 1870.5 1358.1 1871 1356.6 1871.5 1358.8 1872 1357 1872.5 1358.7 1873 1358.1 1873.5 1359.4 1874 1358 1874.5 1359.3 1875 1356.8 1875.5 1358.8 1876 1357.7 1876.5 1358.3 1877 1358.1 1877.5 1359.3 1878 1355.4 1878.5 1358.5 1879 1356.1 1879.5 1359.6 1880 1355.5 1880.5 1356.8 1881 1355.9 1881.5 1360.2 1882 1356.4 1882.5 1358.2 1883 1357.3 1883.5 1355.7 1884 1357.6 1884.5 1358.9 1885 1357.8 1885.5 1359.2 1886 1357.5 1886.5 1358 1887 1357.5 1887.5 1358.4 1888 1360.4 1888.5 1358.4 1889 1358.2 1889.5 1357.1 1890 1357 1890.5 1359.8 1891 1356.5 1891.5 1356.7 1892 1357.8 1892.5 1357.3 1893 1360.4 1893.5 1354.8 1894 1358.3 1894.5 1358.8 1895 1356.4 1895.5 1357 1896 1358.4 1896.5 1359.9 1897 1356.6 1897.5 1355.7 1898 1359 1898.5 1359.7 1899 1357.3 1899.5 1354.8 1900 1359.6 1900.5 1357.4 1901 1359.1 1901.5 1357.6 1902 1357.2 1902.5 1357 1903 1359.5 1903.5 1359.4 1904 1354.8 1904.5 1356.3 1905 1359.8 1905.5 1357 1906 1355.7 1906.5 1357.4 1907 1357.3 1907.5 1357.2 1908 1356.7 1908.5 1356.9 1909 1356.7 1909.5 1357.7 1910 1356.1 1910.5 1356.7 1911 1356.9 1911.5 1358.7 1912 1357.4 1912.5 1356.7 1913 1357.5 1913.5 1357.2 1914 1357.9 1914.5 1357 1915 1358.5 1915.5 1357.6 1916 1355.5 1916.5 1354.5 1917 1355.7 1917.5 1354.5 1918 1352.9 1918.5 1350.2 1919 1348.6 1919.5 1350.2 1920 1349.5 1920.5 1348.1 1921 1344.1 1921.5 1345.8 1922 1342.6 1922.5 1342.9 1923 1342.3 1923.5 1340.5 1923.6 1341.5 1924 1338.9 1924.5 1340.9 1925 1340.5 1925.5 1344.4 1926 1345.1 1926.5 1347.6 1927 1348.2 1927.5 1348.2 1928 1350.7 1928.5 1350.9 1929 1353.1 1929.5 1353.6 1930 1352.6 1930.5 1354.4 1931 1354.9 1931.5 1354.8 1932 1356.6 1932.5 1357.8 1933 1355.3 1933.5 1355.4 1934 1352.9 1934.5 1355.7 1935 1355.3 1935.5 1353 1936 1356.1 1936.5 1356.4 1937 1354.6 1937.5 1355 1938 1354 1938.5 1356.1 1939 1353 1939.5 1354.3 1940 1357.1 1940.5 1354.4 1941 1354.6 1941.5 1353.6 1942 1352 1942.5 1353.2 1943 1353.5 1943.5 1351.4 1944 1352.9 1944.5 1353.8 1945 1353.4 1945.5 1349.8 1946 1350.4 1946.5 1349.5 1947 1352.9 1947.5 1351.5 1948 1352.4 1948.5 1350.4 1949 1350.2 1949.5 1351.9 1950 1352.1 1950.5 1351.1 1951 1352.6 1951.5 1353.5 1952 1353.3 1952.5 1351.9 1953 1350.8 1953.5 1353.4 1954 1354.3 1954.5 1354 1955 1354 1955.5 1353.9 1956 1355.9 1956.5 1355.1 1957 1355.5 1957.5 1354.3 1958 1354.9 1958.5 1356 1959 1354.6 1959.5 1354.4 1960 1355.7 1960.5 1357.7 1961 1356.5 1961.5 1358.2 1962 1356.2 1962.5 1356 1963 1354.6 1963.5 1355.7 1964 1358.3 1964.5 1356.9 1965 1357.4 1965.5 1357.4 1966 1356.5 1966.5 1356.2 1967 1356.7 1967.5 1357.4 1968 1357.1 1968.5 1357.2 1969 1356.7 1969.5 1355.5 1970 1356.2 1970.5 1355.3 1971 1357.8 1971.5 1353.8 1972 1356.2 1972.5 1359.6 1973 1356 1973.5 1355 1974 1356.4 1974.5 1358.1 1975 1356.2 1975.5 1357.2 1976 1356.6 1976.5 1355.9 1977 1360.5 1977.5 1356.5 1978 1355.7 1978.5 1355.8 1979 1356.9 1979.5 1356.9 1980 1357.4 1980.5 1356.5 1981 1354.5 1981.5 1357 1982 1355.9 1982.5 1355.9 1983 1354.3 1983.5 1355.5 1984 1355.3 1984.5 1356.2 1985 1354.3 1985.5 1356.3 1986 1356.3 1986.5 1354.7 1987 1355.3 1987.5 1355 1988 1357.3 1988.5 1352.8 1989 1355.6 1989.5 1353.8 1990 1355.4 1990.5 1357 1991 1355.1 1991.5 1356.1 1992 1354.7 1992.5 1358.3 1993 1356.9 1993.5 1357.2 1994 1353.9 1994.5 1354.2 1995 1356.9 1995.5 1355.2 1996 1355.1 1996.5 1355.8 1997 1353.6 1997.5 1356.1 1998 1355 1998.5 1355.5 1999 1353.8 1999.5 1355.1 2000 1353.2 2000.5 1355 2001 1354.7 2001.5 1353.8 2002 1352.6 2002.5 1351.8 2003 1346.3 2003.5 1349.5 2004 1346.5 2004.5 1345.2 2005 1342.8 2005.5 1339.3 2006 1338.4 2006.5 1338 2007 1337.3 2007.5 1333.2 2008 1331.9 2008.5 1334.4 2008.7 1332.5 2009 1335.3 2009.5 1333.2 2010 1333.1 2010.5 1337 2011 1339.7 2011.5 1337.6 2012 1343.5 2012.5 1343.1 2013 1347.2 2013.5 1346.5 2014 1346.5 2014.5 1350.5 2015 1352.1 2015.5 1354.6 2016 1354.8 2016.5 1354 2017 1353.3 2017.5 1353.2 2018 1353.8 2018.5 1353.3 2019 1354.2 2019.5 1351.4 2020 1355 2020.5 1354.8 2021 1358.3 2021.5 1356 2022 1354.4 2022.5 1355.9 2023 1353.6" stroke="#000" stroke-width="11.5" fill="none" stroke-linejoin="round" stroke-linecap="round"/>
<path d="M1198.9 1146.5A39.8 276.5 0 0 1 1278.7 1146.5A39.8 276.5 0 0 1 1198.9 1146.5" fill="none" stroke="#0070c0" stroke-width="8.3" stroke-dasharray="24 10.3"/>
<g font-family="'Liberation Sans', Arial, sans-serif" font-weight="bold" font-size="95" fill="#000"><text x="187.5" y="1586" text-anchor="middle">10</text><text x="494.4" y="1586" text-anchor="middle">20</text><text x="801.3" y="1586" text-anchor="middle">30</text><text x="1108.2" y="1586" text-anchor="middle">40</text><text x="1415.2" y="1586" text-anchor="middle">50</text><text x="1722.1" y="1586" text-anchor="middle">60</text><text x="2029.0" y="1586" text-anchor="middle">70</text></g>
<line x1="1213" y1="163.5" x2="1416" y2="163.5" stroke="#000" stroke-width="13" stroke-linecap="round"/>
<line x1="1213" y1="277.2" x2="1416" y2="277.2" stroke="#ff0000" stroke-width="13" stroke-linecap="round"/>
<g font-family="'Liberation Sans', Arial, sans-serif" font-size="93" fill="#000">
<text x="1441.5" y="193.3" textLength="320.5" lengthAdjust="spacingAndGlyphs">CC5.2V</text>
<text x="1441" y="306.5" textLength="321.5" lengthAdjust="spacingAndGlyphs">DC3.5V</text>
</g>
<g font-family="'Liberation Sans', Arial, sans-serif" font-weight="bold" fill="#000">
<text x="1494" y="488" font-size="78" textLength="275" lengthAdjust="spacingAndGlyphs">Al peak</text>
<text x="1163.5" y="715.2" font-size="93" textLength="167" lengthAdjust="spacingAndGlyphs">NiO</text>
<text transform="translate(87.8,1062) rotate(-90)" font-size="97" textLength="690" lengthAdjust="spacingAndGlyphs">Intensity (a. u.)</text>
<text x="689.5" y="1716.8" font-size="99">Cu K</text>
<text x="1004.5" y="1716.8" font-size="99">2</text>
<text x="1141.5" y="1716.8" font-size="99" textLength="388" lengthAdjust="spacingAndGlyphs">(degree)</text>
</g>
<g font-family="'Liberation Serif', serif" fill="#000">
<text transform="translate(915.6,1717) scale(1.28,1)" font-size="100">α</text>
<text transform="translate(1057.3,1717) scale(1.23,1)" font-size="98.6">θ</text>
</g>
<line x1="1690" y1="517.5" x2="1782" y2="574.5" stroke="#000" stroke-width="4.6" stroke-linecap="round"/>
<polygon points="1810.5,593.5 1774,584.5 1787,566.5" fill="#000" stroke="#000" stroke-width="1.5" stroke-linejoin="round"/>
<line x1="1245.7" y1="736" x2="1238.5" y2="840" stroke="#4472c4" stroke-width="3.8"/>
<polygon points="1221.8,835.5 1255,835.5 1236.3,865" fill="#4472c4"/>
</g>
</svg>
</body></html>
